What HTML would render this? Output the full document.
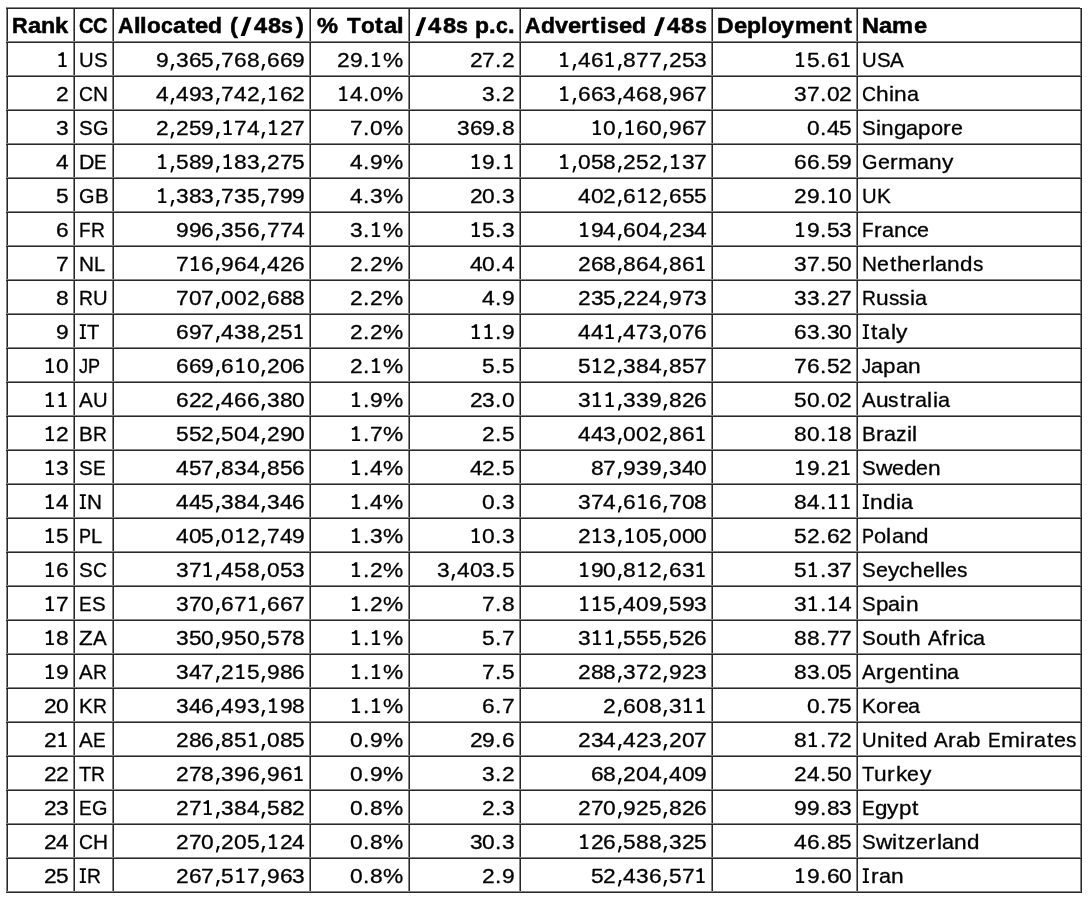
<!DOCTYPE html>
<html><head><meta charset="utf-8"><title>Allocated /48s by country</title>
<style>
html,body{margin:0;padding:0;background:#fff;}
body{width:1092px;height:902px;position:relative;overflow:hidden;font-family:"Liberation Sans",sans-serif;color:#000;}
.v,.h{position:absolute;}
#txt{position:absolute;left:0;top:0;width:1092px;height:902px;will-change:transform;}
.w{position:absolute;left:0;top:0;width:1092px;height:24px;font-size:20.7px;line-height:24px;}
.w.b{font-size:21.5px;}
.w i{position:absolute;top:0;font-style:normal;white-space:pre;transform-origin:0 19.0px;-webkit-text-stroke:0.3px #000;}
.w.b i{font-weight:bold;-webkit-text-stroke:0.5px #000;}
.b0{transform:scale(1.0073,1.0000)}
.b1{transform:scale(1.1000,1.0000)}
.b2{transform:scale(1.0843,1.0000)}
.b3{transform:scale(1.1000,1.0000)}
.b4{transform:scale(0.9326,1.0000)}
.b5{transform:scale(0.9996,1.0000)}
.b6{transform:scale(1.1000,1.0000)}
.b7{transform:scale(1.0462,1.0000)}
.b8{transform:scale(0.9835,1.0000)}
.b9{transform:scale(1.1000,1.0000)}
.b10{transform:scale(1.1000,1.0000)}
.b11{transform:scale(1.0645,1.0000)}
.b12{transform:scale(1.1000,1.0000)}
.b13{transform:scale(1.1000,1.0000)}
.b14{transform:scale(1.1000,1.0000)}
.b15{transform:scale(0.9919,1.0000)}
.b16{transform:scale(1.1000,1.0000)}
.b17{transform:scale(1.1000,1.0000)}
.b18{transform:scale(1.0386,1.0000)}
.b19{transform:scale(1.0645,1.0000)}
.b20{transform:scale(1.1000,1.0000)}
.b21{transform:scale(1.0872,1.0000)}
.b22{transform:scale(1.1000,1.0000)}
.b23{transform:scale(1.1000,1.0000)}
.b24{transform:scale(1.0691,1.0000)}
.b25{transform:scale(1.0889,1.0000)}
.b26{transform:scale(1.1000,1.0000)}
.b27{transform:scale(1.0910,1.0000)}
.r28{transform:scale(0.9793,1.0000)}
.r29{transform:scale(0.9908,1.0000)}
.r30{transform:scale(1.1000,1.0000)}
.r31{transform:scale(1.1000,1.0000)}
.r32{transform:scale(1.1000,1.0000)}
.r33{transform:scale(1.1000,1.0000)}
.r34{transform:scale(1.1000,1.0000)}
.r35{transform:scale(1.1000,1.0000)}
.r36{transform:scale(1.1000,1.0000)}
.r37{transform:scale(1.1000,1.0000)}
.r38{transform:scale(1.1000,1.0000)}
.r39{transform:scale(1.1000,1.0000)}
.r40{transform:scale(0.9908,1.0000)}
.r41{transform:scale(0.9338,1.0000)}
.r42{transform:scale(1.0007,1.0000)}
.r43{transform:scale(1.1000,1.0000)}
.r44{transform:scale(1.0997,1.0000)}
.r45{transform:scale(1.1000,1.0000)}
.r46{transform:scale(1.0997,1.0000)}
.r47{transform:scale(1.0441,1.0000)}
.r48{transform:scale(0.9627,1.0000)}
.r49{transform:scale(1.0823,1.0000)}
.r50{transform:scale(1.0823,1.0000)}
.r51{transform:scale(1.0545,1.0000)}
.r52{transform:scale(1.1000,1.0000)}
.r53{transform:scale(1.0354,1.0000)}
.r54{transform:scale(1.0315,1.0000)}
.r55{transform:scale(0.9155,1.0000)}
.r56{transform:scale(1.1000,1.0000)}
.r57{transform:scale(1.1000,1.0000)}
.r58{transform:scale(0.9937,1.0000)}
.r59{transform:scale(1.0039,1.0000)}
.r60{transform:scale(0.9095,1.0000)}
.r61{transform:scale(0.9298,1.0000)}
.r62{transform:scale(1.0068,1.0000)}
.r63{transform:scale(0.9677,1.0000)}
.r64{transform:scale(1.1000,1.0000)}
.r65{transform:scale(1.1000,1.0000)}
.r66{transform:scale(1.0823,1.0000)}
.r67{transform:scale(1.0068,1.0000)}
.r68{transform:scale(1.0997,1.0000)}
.r69{transform:scale(0.9743,1.0000)}
.r70{transform:scale(0.8792,1.0000)}
.r71{transform:scale(0.8735,1.0000)}
.r72{transform:scale(1.0145,1.0000)}
.r73{transform:scale(1.0944,1.0000)}
.r74{transform:scale(1.0835,1.0000)}
.r75{transform:scale(1.1000,1.0000)}
.r76{transform:scale(1.0823,1.0000)}
.r77{transform:scale(1.1000,1.0000)}
.r78{transform:scale(1.0048,1.0000)}
</style></head><body>

<div class="v" style="left:6px;top:8px;width:1px;height:884px;background:#848484"></div>
<div class="v" style="left:73px;top:8px;width:1px;height:884px;background:#848484"></div>
<div class="v" style="left:112px;top:8px;width:1px;height:884px;background:#848484"></div>
<div class="v" style="left:309px;top:8px;width:1px;height:884px;background:#848484"></div>
<div class="v" style="left:408px;top:8px;width:1px;height:884px;background:#848484"></div>
<div class="v" style="left:519px;top:8px;width:1px;height:884px;background:#848484"></div>
<div class="v" style="left:711px;top:8px;width:1px;height:884px;background:#848484"></div>
<div class="v" style="left:856px;top:8px;width:1px;height:884px;background:#848484"></div>
<div class="v" style="left:1080px;top:8px;width:1px;height:884px;background:#848484"></div>
<div class="v" style="left:7px;top:8px;width:1px;height:885px;background:#272727"></div>
<div class="v" style="left:74px;top:8px;width:1px;height:885px;background:#272727"></div>
<div class="v" style="left:113px;top:8px;width:1px;height:885px;background:#272727"></div>
<div class="v" style="left:310px;top:8px;width:1px;height:885px;background:#272727"></div>
<div class="v" style="left:409px;top:8px;width:1px;height:885px;background:#272727"></div>
<div class="v" style="left:520px;top:8px;width:1px;height:885px;background:#272727"></div>
<div class="v" style="left:712px;top:8px;width:1px;height:885px;background:#272727"></div>
<div class="v" style="left:857px;top:8px;width:1px;height:885px;background:#272727"></div>
<div class="v" style="left:1081px;top:8px;width:1px;height:885px;background:#272727"></div>
<div class="h" style="left:6px;top:7px;width:1074px;height:1px;background:#848484"></div>
<div class="h" style="left:6px;top:41px;width:1074px;height:1px;background:#848484"></div>
<div class="h" style="left:6px;top:75px;width:1074px;height:1px;background:#848484"></div>
<div class="h" style="left:6px;top:109px;width:1074px;height:1px;background:#848484"></div>
<div class="h" style="left:6px;top:143px;width:1074px;height:1px;background:#848484"></div>
<div class="h" style="left:6px;top:177px;width:1074px;height:1px;background:#848484"></div>
<div class="h" style="left:6px;top:211px;width:1074px;height:1px;background:#848484"></div>
<div class="h" style="left:6px;top:245px;width:1074px;height:1px;background:#848484"></div>
<div class="h" style="left:6px;top:279px;width:1074px;height:1px;background:#848484"></div>
<div class="h" style="left:6px;top:313px;width:1074px;height:1px;background:#848484"></div>
<div class="h" style="left:6px;top:347px;width:1074px;height:1px;background:#848484"></div>
<div class="h" style="left:6px;top:381px;width:1074px;height:1px;background:#848484"></div>
<div class="h" style="left:6px;top:415px;width:1074px;height:1px;background:#848484"></div>
<div class="h" style="left:6px;top:449px;width:1074px;height:1px;background:#848484"></div>
<div class="h" style="left:6px;top:483px;width:1074px;height:1px;background:#848484"></div>
<div class="h" style="left:6px;top:517px;width:1074px;height:1px;background:#848484"></div>
<div class="h" style="left:6px;top:551px;width:1074px;height:1px;background:#848484"></div>
<div class="h" style="left:6px;top:585px;width:1074px;height:1px;background:#848484"></div>
<div class="h" style="left:6px;top:619px;width:1074px;height:1px;background:#848484"></div>
<div class="h" style="left:6px;top:653px;width:1074px;height:1px;background:#848484"></div>
<div class="h" style="left:6px;top:687px;width:1074px;height:1px;background:#848484"></div>
<div class="h" style="left:6px;top:721px;width:1074px;height:1px;background:#848484"></div>
<div class="h" style="left:6px;top:755px;width:1074px;height:1px;background:#848484"></div>
<div class="h" style="left:6px;top:789px;width:1074px;height:1px;background:#848484"></div>
<div class="h" style="left:6px;top:823px;width:1074px;height:1px;background:#848484"></div>
<div class="h" style="left:6px;top:857px;width:1074px;height:1px;background:#848484"></div>
<div class="h" style="left:6px;top:891px;width:1074px;height:1px;background:#848484"></div>
<div class="h" style="left:6px;top:8px;width:1076px;height:1px;background:#272727"></div>
<div class="h" style="left:6px;top:42px;width:1076px;height:1px;background:#272727"></div>
<div class="h" style="left:6px;top:76px;width:1076px;height:1px;background:#272727"></div>
<div class="h" style="left:6px;top:110px;width:1076px;height:1px;background:#272727"></div>
<div class="h" style="left:6px;top:144px;width:1076px;height:1px;background:#272727"></div>
<div class="h" style="left:6px;top:178px;width:1076px;height:1px;background:#272727"></div>
<div class="h" style="left:6px;top:212px;width:1076px;height:1px;background:#272727"></div>
<div class="h" style="left:6px;top:246px;width:1076px;height:1px;background:#272727"></div>
<div class="h" style="left:6px;top:280px;width:1076px;height:1px;background:#272727"></div>
<div class="h" style="left:6px;top:314px;width:1076px;height:1px;background:#272727"></div>
<div class="h" style="left:6px;top:348px;width:1076px;height:1px;background:#272727"></div>
<div class="h" style="left:6px;top:382px;width:1076px;height:1px;background:#272727"></div>
<div class="h" style="left:6px;top:416px;width:1076px;height:1px;background:#272727"></div>
<div class="h" style="left:6px;top:450px;width:1076px;height:1px;background:#272727"></div>
<div class="h" style="left:6px;top:484px;width:1076px;height:1px;background:#272727"></div>
<div class="h" style="left:6px;top:518px;width:1076px;height:1px;background:#272727"></div>
<div class="h" style="left:6px;top:552px;width:1076px;height:1px;background:#272727"></div>
<div class="h" style="left:6px;top:586px;width:1076px;height:1px;background:#272727"></div>
<div class="h" style="left:6px;top:620px;width:1076px;height:1px;background:#272727"></div>
<div class="h" style="left:6px;top:654px;width:1076px;height:1px;background:#272727"></div>
<div class="h" style="left:6px;top:688px;width:1076px;height:1px;background:#272727"></div>
<div class="h" style="left:6px;top:722px;width:1076px;height:1px;background:#272727"></div>
<div class="h" style="left:6px;top:756px;width:1076px;height:1px;background:#272727"></div>
<div class="h" style="left:6px;top:790px;width:1076px;height:1px;background:#272727"></div>
<div class="h" style="left:6px;top:824px;width:1076px;height:1px;background:#272727"></div>
<div class="h" style="left:6px;top:858px;width:1076px;height:1px;background:#272727"></div>
<div class="h" style="left:6px;top:892px;width:1076px;height:1px;background:#272727"></div>
<svg style="position:absolute;left:0;top:0" width="1092" height="902" viewBox="0 0 1092 902"><polygon points="240.56,35.90 244.76,35.90 251.56,17.20 247.36,17.20"/><polygon points="415.30,35.90 419.50,35.90 426.30,17.20 422.10,17.20"/><polygon points="653.94,35.90 658.14,35.90 664.94,17.20 660.74,17.20"/><polygon points="61.83,52.30 63.88,52.30 63.88,65.20 66.68,65.20 66.68,67.00 58.68,67.00 58.68,65.20 61.83,65.20 61.83,55.80 58.38,55.80 58.38,54.10 59.88,54.10"/><polygon points="171.78,64.10 174.28,64.10 172.08,70.60 170.38,70.60"/><polygon points="217.22,64.10 219.72,64.10 217.52,70.60 215.82,70.60"/><polygon points="262.66,64.10 265.16,64.10 262.96,70.60 261.26,70.60"/><polygon points="375.31,52.30 377.36,52.30 377.36,65.20 380.16,65.20 380.16,67.00 372.16,67.00 372.16,65.20 375.31,65.20 375.31,55.80 371.86,55.80 371.86,54.10 373.36,54.10"/><polygon points="563.51,52.30 565.56,52.30 565.56,65.20 568.36,65.20 568.36,67.00 560.36,67.00 560.36,65.20 563.51,65.20 563.51,55.80 560.06,55.80 560.06,54.10 561.56,54.10"/><polygon points="573.78,64.10 576.28,64.10 574.08,70.60 572.38,70.60"/><polygon points="608.95,52.30 611.00,52.30 611.00,65.20 613.80,65.20 613.80,67.00 605.80,67.00 605.80,65.20 608.95,65.20 608.95,55.80 605.50,55.80 605.50,54.10 607.00,54.10"/><polygon points="619.22,64.10 621.72,64.10 619.52,70.60 617.82,70.60"/><polygon points="664.66,64.10 667.16,64.10 664.96,70.60 663.26,70.60"/><polygon points="799.39,52.30 801.44,52.30 801.44,65.20 804.24,65.20 804.24,67.00 796.24,67.00 796.24,65.20 799.39,65.20 799.39,55.80 795.94,55.80 795.94,54.10 797.44,54.10"/><polygon points="844.83,52.30 846.88,52.30 846.88,65.20 849.68,65.20 849.68,67.00 841.68,67.00 841.68,65.20 844.83,65.20 844.83,55.80 841.38,55.80 841.38,54.10 842.88,54.10"/><polygon points="171.78,98.10 174.28,98.10 172.08,104.60 170.38,104.60"/><polygon points="217.22,98.10 219.72,98.10 217.52,104.60 215.82,104.60"/><polygon points="262.66,98.10 265.16,98.10 262.96,104.60 261.26,104.60"/><polygon points="272.39,86.30 274.44,86.30 274.44,99.20 277.24,99.20 277.24,101.00 269.24,101.00 269.24,99.20 272.39,99.20 272.39,89.80 268.94,89.80 268.94,88.10 270.44,88.10"/><polygon points="342.59,86.30 344.64,86.30 344.64,99.20 347.44,99.20 347.44,101.00 339.44,101.00 339.44,99.20 342.59,99.20 342.59,89.80 339.14,89.80 339.14,88.10 340.64,88.10"/><polygon points="563.51,86.30 565.56,86.30 565.56,99.20 568.36,99.20 568.36,101.00 560.36,101.00 560.36,99.20 563.51,99.20 563.51,89.80 560.06,89.80 560.06,88.10 561.56,88.10"/><polygon points="573.78,98.10 576.28,98.10 574.08,104.60 572.38,104.60"/><polygon points="619.22,98.10 621.72,98.10 619.52,104.60 617.82,104.60"/><polygon points="664.66,98.10 667.16,98.10 664.96,104.60 663.26,104.60"/><polygon points="171.78,132.10 174.28,132.10 172.08,138.60 170.38,138.60"/><polygon points="217.22,132.10 219.72,132.10 217.52,138.60 215.82,138.60"/><polygon points="226.95,120.30 229.00,120.30 229.00,133.20 231.80,133.20 231.80,135.00 223.80,135.00 223.80,133.20 226.95,133.20 226.95,123.80 223.50,123.80 223.50,122.10 225.00,122.10"/><polygon points="262.66,132.10 265.16,132.10 262.96,138.60 261.26,138.60"/><polygon points="272.39,120.30 274.44,120.30 274.44,133.20 277.24,133.20 277.24,135.00 269.24,135.00 269.24,133.20 272.39,133.20 272.39,123.80 268.94,123.80 268.94,122.10 270.44,122.10"/><polygon points="596.23,120.30 598.28,120.30 598.28,133.20 601.08,133.20 601.08,135.00 593.08,135.00 593.08,133.20 596.23,133.20 596.23,123.80 592.78,123.80 592.78,122.10 594.28,122.10"/><polygon points="619.22,132.10 621.72,132.10 619.52,138.60 617.82,138.60"/><polygon points="628.95,120.30 631.00,120.30 631.00,133.20 633.80,133.20 633.80,135.00 625.80,135.00 625.80,133.20 628.95,133.20 628.95,123.80 625.50,123.80 625.50,122.10 627.00,122.10"/><polygon points="664.66,132.10 667.16,132.10 664.96,138.60 663.26,138.60"/><polygon points="161.51,154.30 163.56,154.30 163.56,167.20 166.36,167.20 166.36,169.00 158.36,169.00 158.36,167.20 161.51,167.20 161.51,157.80 158.06,157.80 158.06,156.10 159.56,156.10"/><polygon points="171.78,166.10 174.28,166.10 172.08,172.60 170.38,172.60"/><polygon points="217.22,166.10 219.72,166.10 217.52,172.60 215.82,172.60"/><polygon points="226.95,154.30 229.00,154.30 229.00,167.20 231.80,167.20 231.80,169.00 223.80,169.00 223.80,167.20 226.95,167.20 226.95,157.80 223.50,157.80 223.50,156.10 225.00,156.10"/><polygon points="262.66,166.10 265.16,166.10 262.96,172.60 261.26,172.60"/><polygon points="475.11,154.30 477.16,154.30 477.16,167.20 479.96,167.20 479.96,169.00 471.96,169.00 471.96,167.20 475.11,167.20 475.11,157.80 471.66,157.80 471.66,156.10 473.16,156.10"/><polygon points="507.83,154.30 509.88,154.30 509.88,167.20 512.68,167.20 512.68,169.00 504.68,169.00 504.68,167.20 507.83,167.20 507.83,157.80 504.38,157.80 504.38,156.10 505.88,156.10"/><polygon points="563.51,154.30 565.56,154.30 565.56,167.20 568.36,167.20 568.36,169.00 560.36,169.00 560.36,167.20 563.51,167.20 563.51,157.80 560.06,157.80 560.06,156.10 561.56,156.10"/><polygon points="573.78,166.10 576.28,166.10 574.08,172.60 572.38,172.60"/><polygon points="619.22,166.10 621.72,166.10 619.52,172.60 617.82,172.60"/><polygon points="664.66,166.10 667.16,166.10 664.96,172.60 663.26,172.60"/><polygon points="674.39,154.30 676.44,154.30 676.44,167.20 679.24,167.20 679.24,169.00 671.24,169.00 671.24,167.20 674.39,167.20 674.39,157.80 670.94,157.80 670.94,156.10 672.44,156.10"/><polygon points="161.51,188.30 163.56,188.30 163.56,201.20 166.36,201.20 166.36,203.00 158.36,203.00 158.36,201.20 161.51,201.20 161.51,191.80 158.06,191.80 158.06,190.10 159.56,190.10"/><polygon points="171.78,200.10 174.28,200.10 172.08,206.60 170.38,206.60"/><polygon points="217.22,200.10 219.72,200.10 217.52,206.60 215.82,206.60"/><polygon points="262.66,200.10 265.16,200.10 262.96,206.60 261.26,206.60"/><polygon points="619.22,200.10 621.72,200.10 619.52,206.60 617.82,206.60"/><polygon points="641.67,188.30 643.72,188.30 643.72,201.20 646.52,201.20 646.52,203.00 638.52,203.00 638.52,201.20 641.67,201.20 641.67,191.80 638.22,191.80 638.22,190.10 639.72,190.10"/><polygon points="664.66,200.10 667.16,200.10 664.96,206.60 663.26,206.60"/><polygon points="832.11,188.30 834.16,188.30 834.16,201.20 836.96,201.20 836.96,203.00 828.96,203.00 828.96,201.20 832.11,201.20 832.11,191.80 828.66,191.80 828.66,190.10 830.16,190.10"/><polygon points="217.22,234.10 219.72,234.10 217.52,240.60 215.82,240.60"/><polygon points="262.66,234.10 265.16,234.10 262.96,240.60 261.26,240.60"/><polygon points="375.31,222.30 377.36,222.30 377.36,235.20 380.16,235.20 380.16,237.00 372.16,237.00 372.16,235.20 375.31,235.20 375.31,225.80 371.86,225.80 371.86,224.10 373.36,224.10"/><polygon points="475.11,222.30 477.16,222.30 477.16,235.20 479.96,235.20 479.96,237.00 471.96,237.00 471.96,235.20 475.11,235.20 475.11,225.80 471.66,225.80 471.66,224.10 473.16,224.10"/><polygon points="583.51,222.30 585.56,222.30 585.56,235.20 588.36,235.20 588.36,237.00 580.36,237.00 580.36,235.20 583.51,235.20 583.51,225.80 580.06,225.80 580.06,224.10 581.56,224.10"/><polygon points="619.22,234.10 621.72,234.10 619.52,240.60 617.82,240.60"/><polygon points="664.66,234.10 667.16,234.10 664.96,240.60 663.26,240.60"/><polygon points="799.39,222.30 801.44,222.30 801.44,235.20 804.24,235.20 804.24,237.00 796.24,237.00 796.24,235.20 799.39,235.20 799.39,225.80 795.94,225.80 795.94,224.10 797.44,224.10"/><polygon points="194.23,256.30 196.28,256.30 196.28,269.20 199.08,269.20 199.08,271.00 191.08,271.00 191.08,269.20 194.23,269.20 194.23,259.80 190.78,259.80 190.78,258.10 192.28,258.10"/><polygon points="217.22,268.10 219.72,268.10 217.52,274.60 215.82,274.60"/><polygon points="262.66,268.10 265.16,268.10 262.96,274.60 261.26,274.60"/><polygon points="619.22,268.10 621.72,268.10 619.52,274.60 617.82,274.60"/><polygon points="664.66,268.10 667.16,268.10 664.96,274.60 663.26,274.60"/><polygon points="699.83,256.30 701.88,256.30 701.88,269.20 704.68,269.20 704.68,271.00 696.68,271.00 696.68,269.20 699.83,269.20 699.83,259.80 696.38,259.80 696.38,258.10 697.88,258.10"/><polygon points="217.22,302.10 219.72,302.10 217.52,308.60 215.82,308.60"/><polygon points="262.66,302.10 265.16,302.10 262.96,308.60 261.26,308.60"/><polygon points="619.22,302.10 621.72,302.10 619.52,308.60 617.82,308.60"/><polygon points="664.66,302.10 667.16,302.10 664.96,308.60 663.26,308.60"/><path d="M79.80 324.20h6.10v1.80h-2.05v11.20h2.05v1.80h-6.10v-1.80h2.05v-11.20h-2.05z"/><polygon points="217.22,336.10 219.72,336.10 217.52,342.60 215.82,342.60"/><polygon points="262.66,336.10 265.16,336.10 262.96,342.60 261.26,342.60"/><polygon points="297.83,324.30 299.88,324.30 299.88,337.20 302.68,337.20 302.68,339.00 294.68,339.00 294.68,337.20 297.83,337.20 297.83,327.80 294.38,327.80 294.38,326.10 295.88,326.10"/><polygon points="475.11,324.30 477.16,324.30 477.16,337.20 479.96,337.20 479.96,339.00 471.96,339.00 471.96,337.20 475.11,337.20 475.11,327.80 471.66,327.80 471.66,326.10 473.16,326.10"/><polygon points="487.83,324.30 489.88,324.30 489.88,337.20 492.68,337.20 492.68,339.00 484.68,339.00 484.68,337.20 487.83,337.20 487.83,327.80 484.38,327.80 484.38,326.10 485.88,326.10"/><polygon points="608.95,324.30 611.00,324.30 611.00,337.20 613.80,337.20 613.80,339.00 605.80,339.00 605.80,337.20 608.95,337.20 608.95,327.80 605.50,327.80 605.50,326.10 607.00,326.10"/><polygon points="619.22,336.10 621.72,336.10 619.52,342.60 617.82,342.60"/><polygon points="664.66,336.10 667.16,336.10 664.96,342.60 663.26,342.60"/><path d="M862.80 324.20h6.10v1.80h-2.05v11.20h2.05v1.80h-6.10v-1.80h2.05v-11.20h-2.05z"/><polygon points="49.11,358.30 51.16,358.30 51.16,371.20 53.96,371.20 53.96,373.00 45.96,373.00 45.96,371.20 49.11,371.20 49.11,361.80 45.66,361.80 45.66,360.10 47.16,360.10"/><polygon points="217.22,370.10 219.72,370.10 217.52,376.60 215.82,376.60"/><polygon points="239.67,358.30 241.72,358.30 241.72,371.20 244.52,371.20 244.52,373.00 236.52,373.00 236.52,371.20 239.67,371.20 239.67,361.80 236.22,361.80 236.22,360.10 237.72,360.10"/><polygon points="262.66,370.10 265.16,370.10 262.96,376.60 261.26,376.60"/><polygon points="375.31,358.30 377.36,358.30 377.36,371.20 380.16,371.20 380.16,373.00 372.16,373.00 372.16,371.20 375.31,371.20 375.31,361.80 371.86,361.80 371.86,360.10 373.36,360.10"/><polygon points="596.23,358.30 598.28,358.30 598.28,371.20 601.08,371.20 601.08,373.00 593.08,373.00 593.08,371.20 596.23,371.20 596.23,361.80 592.78,361.80 592.78,360.10 594.28,360.10"/><polygon points="619.22,370.10 621.72,370.10 619.52,376.60 617.82,376.60"/><polygon points="664.66,370.10 667.16,370.10 664.96,376.60 663.26,376.60"/><polygon points="49.11,392.30 51.16,392.30 51.16,405.20 53.96,405.20 53.96,407.00 45.96,407.00 45.96,405.20 49.11,405.20 49.11,395.80 45.66,395.80 45.66,394.10 47.16,394.10"/><polygon points="61.83,392.30 63.88,392.30 63.88,405.20 66.68,405.20 66.68,407.00 58.68,407.00 58.68,405.20 61.83,405.20 61.83,395.80 58.38,395.80 58.38,394.10 59.88,394.10"/><polygon points="217.22,404.10 219.72,404.10 217.52,410.60 215.82,410.60"/><polygon points="262.66,404.10 265.16,404.10 262.96,410.60 261.26,410.60"/><polygon points="355.31,392.30 357.36,392.30 357.36,405.20 360.16,405.20 360.16,407.00 352.16,407.00 352.16,405.20 355.31,405.20 355.31,395.80 351.86,395.80 351.86,394.10 353.36,394.10"/><polygon points="596.23,392.30 598.28,392.30 598.28,405.20 601.08,405.20 601.08,407.00 593.08,407.00 593.08,405.20 596.23,405.20 596.23,395.80 592.78,395.80 592.78,394.10 594.28,394.10"/><polygon points="608.95,392.30 611.00,392.30 611.00,405.20 613.80,405.20 613.80,407.00 605.80,407.00 605.80,405.20 608.95,405.20 608.95,395.80 605.50,395.80 605.50,394.10 607.00,394.10"/><polygon points="619.22,404.10 621.72,404.10 619.52,410.60 617.82,410.60"/><polygon points="664.66,404.10 667.16,404.10 664.96,410.60 663.26,410.60"/><polygon points="49.11,426.30 51.16,426.30 51.16,439.20 53.96,439.20 53.96,441.00 45.96,441.00 45.96,439.20 49.11,439.20 49.11,429.80 45.66,429.80 45.66,428.10 47.16,428.10"/><polygon points="217.22,438.10 219.72,438.10 217.52,444.60 215.82,444.60"/><polygon points="262.66,438.10 265.16,438.10 262.96,444.60 261.26,444.60"/><polygon points="355.31,426.30 357.36,426.30 357.36,439.20 360.16,439.20 360.16,441.00 352.16,441.00 352.16,439.20 355.31,439.20 355.31,429.80 351.86,429.80 351.86,428.10 353.36,428.10"/><polygon points="619.22,438.10 621.72,438.10 619.52,444.60 617.82,444.60"/><polygon points="664.66,438.10 667.16,438.10 664.96,444.60 663.26,444.60"/><polygon points="699.83,426.30 701.88,426.30 701.88,439.20 704.68,439.20 704.68,441.00 696.68,441.00 696.68,439.20 699.83,439.20 699.83,429.80 696.38,429.80 696.38,428.10 697.88,428.10"/><polygon points="832.11,426.30 834.16,426.30 834.16,439.20 836.96,439.20 836.96,441.00 828.96,441.00 828.96,439.20 832.11,439.20 832.11,429.80 828.66,429.80 828.66,428.10 830.16,428.10"/><polygon points="49.11,460.30 51.16,460.30 51.16,473.20 53.96,473.20 53.96,475.00 45.96,475.00 45.96,473.20 49.11,473.20 49.11,463.80 45.66,463.80 45.66,462.10 47.16,462.10"/><polygon points="217.22,472.10 219.72,472.10 217.52,478.60 215.82,478.60"/><polygon points="262.66,472.10 265.16,472.10 262.96,478.60 261.26,478.60"/><polygon points="355.31,460.30 357.36,460.30 357.36,473.20 360.16,473.20 360.16,475.00 352.16,475.00 352.16,473.20 355.31,473.20 355.31,463.80 351.86,463.80 351.86,462.10 353.36,462.10"/><polygon points="619.22,472.10 621.72,472.10 619.52,478.60 617.82,478.60"/><polygon points="664.66,472.10 667.16,472.10 664.96,478.60 663.26,478.60"/><polygon points="799.39,460.30 801.44,460.30 801.44,473.20 804.24,473.20 804.24,475.00 796.24,475.00 796.24,473.20 799.39,473.20 799.39,463.80 795.94,463.80 795.94,462.10 797.44,462.10"/><polygon points="844.83,460.30 846.88,460.30 846.88,473.20 849.68,473.20 849.68,475.00 841.68,475.00 841.68,473.20 844.83,473.20 844.83,463.80 841.38,463.80 841.38,462.10 842.88,462.10"/><polygon points="49.11,494.30 51.16,494.30 51.16,507.20 53.96,507.20 53.96,509.00 45.96,509.00 45.96,507.20 49.11,507.20 49.11,497.80 45.66,497.80 45.66,496.10 47.16,496.10"/><path d="M79.80 494.20h6.10v1.80h-2.05v11.20h2.05v1.80h-6.10v-1.80h2.05v-11.20h-2.05z"/><polygon points="217.22,506.10 219.72,506.10 217.52,512.60 215.82,512.60"/><polygon points="262.66,506.10 265.16,506.10 262.96,512.60 261.26,512.60"/><polygon points="355.31,494.30 357.36,494.30 357.36,507.20 360.16,507.20 360.16,509.00 352.16,509.00 352.16,507.20 355.31,507.20 355.31,497.80 351.86,497.80 351.86,496.10 353.36,496.10"/><polygon points="619.22,506.10 621.72,506.10 619.52,512.60 617.82,512.60"/><polygon points="641.67,494.30 643.72,494.30 643.72,507.20 646.52,507.20 646.52,509.00 638.52,509.00 638.52,507.20 641.67,507.20 641.67,497.80 638.22,497.80 638.22,496.10 639.72,496.10"/><polygon points="664.66,506.10 667.16,506.10 664.96,512.60 663.26,512.60"/><polygon points="832.11,494.30 834.16,494.30 834.16,507.20 836.96,507.20 836.96,509.00 828.96,509.00 828.96,507.20 832.11,507.20 832.11,497.80 828.66,497.80 828.66,496.10 830.16,496.10"/><polygon points="844.83,494.30 846.88,494.30 846.88,507.20 849.68,507.20 849.68,509.00 841.68,509.00 841.68,507.20 844.83,507.20 844.83,497.80 841.38,497.80 841.38,496.10 842.88,496.10"/><path d="M862.80 494.20h6.10v1.80h-2.05v11.20h2.05v1.80h-6.10v-1.80h2.05v-11.20h-2.05z"/><polygon points="49.11,528.30 51.16,528.30 51.16,541.20 53.96,541.20 53.96,543.00 45.96,543.00 45.96,541.20 49.11,541.20 49.11,531.80 45.66,531.80 45.66,530.10 47.16,530.10"/><polygon points="217.22,540.10 219.72,540.10 217.52,546.60 215.82,546.60"/><polygon points="239.67,528.30 241.72,528.30 241.72,541.20 244.52,541.20 244.52,543.00 236.52,543.00 236.52,541.20 239.67,541.20 239.67,531.80 236.22,531.80 236.22,530.10 237.72,530.10"/><polygon points="262.66,540.10 265.16,540.10 262.96,546.60 261.26,546.60"/><polygon points="355.31,528.30 357.36,528.30 357.36,541.20 360.16,541.20 360.16,543.00 352.16,543.00 352.16,541.20 355.31,541.20 355.31,531.80 351.86,531.80 351.86,530.10 353.36,530.10"/><polygon points="475.11,528.30 477.16,528.30 477.16,541.20 479.96,541.20 479.96,543.00 471.96,543.00 471.96,541.20 475.11,541.20 475.11,531.80 471.66,531.80 471.66,530.10 473.16,530.10"/><polygon points="596.23,528.30 598.28,528.30 598.28,541.20 601.08,541.20 601.08,543.00 593.08,543.00 593.08,541.20 596.23,541.20 596.23,531.80 592.78,531.80 592.78,530.10 594.28,530.10"/><polygon points="619.22,540.10 621.72,540.10 619.52,546.60 617.82,546.60"/><polygon points="628.95,528.30 631.00,528.30 631.00,541.20 633.80,541.20 633.80,543.00 625.80,543.00 625.80,541.20 628.95,541.20 628.95,531.80 625.50,531.80 625.50,530.10 627.00,530.10"/><polygon points="664.66,540.10 667.16,540.10 664.96,546.60 663.26,546.60"/><polygon points="49.11,562.30 51.16,562.30 51.16,575.20 53.96,575.20 53.96,577.00 45.96,577.00 45.96,575.20 49.11,575.20 49.11,565.80 45.66,565.80 45.66,564.10 47.16,564.10"/><polygon points="206.95,562.30 209.00,562.30 209.00,575.20 211.80,575.20 211.80,577.00 203.80,577.00 203.80,575.20 206.95,575.20 206.95,565.80 203.50,565.80 203.50,564.10 205.00,564.10"/><polygon points="217.22,574.10 219.72,574.10 217.52,580.60 215.82,580.60"/><polygon points="262.66,574.10 265.16,574.10 262.96,580.60 261.26,580.60"/><polygon points="355.31,562.30 357.36,562.30 357.36,575.20 360.16,575.20 360.16,577.00 352.16,577.00 352.16,575.20 355.31,575.20 355.31,565.80 351.86,565.80 351.86,564.10 353.36,564.10"/><polygon points="452.66,574.10 455.16,574.10 452.96,580.60 451.26,580.60"/><polygon points="583.51,562.30 585.56,562.30 585.56,575.20 588.36,575.20 588.36,577.00 580.36,577.00 580.36,575.20 583.51,575.20 583.51,565.80 580.06,565.80 580.06,564.10 581.56,564.10"/><polygon points="619.22,574.10 621.72,574.10 619.52,580.60 617.82,580.60"/><polygon points="641.67,562.30 643.72,562.30 643.72,575.20 646.52,575.20 646.52,577.00 638.52,577.00 638.52,575.20 641.67,575.20 641.67,565.80 638.22,565.80 638.22,564.10 639.72,564.10"/><polygon points="664.66,574.10 667.16,574.10 664.96,580.60 663.26,580.60"/><polygon points="699.83,562.30 701.88,562.30 701.88,575.20 704.68,575.20 704.68,577.00 696.68,577.00 696.68,575.20 699.83,575.20 699.83,565.80 696.38,565.80 696.38,564.10 697.88,564.10"/><polygon points="812.11,562.30 814.16,562.30 814.16,575.20 816.96,575.20 816.96,577.00 808.96,577.00 808.96,575.20 812.11,575.20 812.11,565.80 808.66,565.80 808.66,564.10 810.16,564.10"/><polygon points="49.11,596.30 51.16,596.30 51.16,609.20 53.96,609.20 53.96,611.00 45.96,611.00 45.96,609.20 49.11,609.20 49.11,599.80 45.66,599.80 45.66,598.10 47.16,598.10"/><polygon points="217.22,608.10 219.72,608.10 217.52,614.60 215.82,614.60"/><polygon points="252.39,596.30 254.44,596.30 254.44,609.20 257.24,609.20 257.24,611.00 249.24,611.00 249.24,609.20 252.39,609.20 252.39,599.80 248.94,599.80 248.94,598.10 250.44,598.10"/><polygon points="262.66,608.10 265.16,608.10 262.96,614.60 261.26,614.60"/><polygon points="355.31,596.30 357.36,596.30 357.36,609.20 360.16,609.20 360.16,611.00 352.16,611.00 352.16,609.20 355.31,609.20 355.31,599.80 351.86,599.80 351.86,598.10 353.36,598.10"/><polygon points="583.51,596.30 585.56,596.30 585.56,609.20 588.36,609.20 588.36,611.00 580.36,611.00 580.36,609.20 583.51,609.20 583.51,599.80 580.06,599.80 580.06,598.10 581.56,598.10"/><polygon points="596.23,596.30 598.28,596.30 598.28,609.20 601.08,609.20 601.08,611.00 593.08,611.00 593.08,609.20 596.23,609.20 596.23,599.80 592.78,599.80 592.78,598.10 594.28,598.10"/><polygon points="619.22,608.10 621.72,608.10 619.52,614.60 617.82,614.60"/><polygon points="664.66,608.10 667.16,608.10 664.96,614.60 663.26,614.60"/><polygon points="812.11,596.30 814.16,596.30 814.16,609.20 816.96,609.20 816.96,611.00 808.96,611.00 808.96,609.20 812.11,609.20 812.11,599.80 808.66,599.80 808.66,598.10 810.16,598.10"/><polygon points="832.11,596.30 834.16,596.30 834.16,609.20 836.96,609.20 836.96,611.00 828.96,611.00 828.96,609.20 832.11,609.20 832.11,599.80 828.66,599.80 828.66,598.10 830.16,598.10"/><polygon points="49.11,630.30 51.16,630.30 51.16,643.20 53.96,643.20 53.96,645.00 45.96,645.00 45.96,643.20 49.11,643.20 49.11,633.80 45.66,633.80 45.66,632.10 47.16,632.10"/><polygon points="217.22,642.10 219.72,642.10 217.52,648.60 215.82,648.60"/><polygon points="262.66,642.10 265.16,642.10 262.96,648.60 261.26,648.60"/><polygon points="355.31,630.30 357.36,630.30 357.36,643.20 360.16,643.20 360.16,645.00 352.16,645.00 352.16,643.20 355.31,643.20 355.31,633.80 351.86,633.80 351.86,632.10 353.36,632.10"/><polygon points="375.31,630.30 377.36,630.30 377.36,643.20 380.16,643.20 380.16,645.00 372.16,645.00 372.16,643.20 375.31,643.20 375.31,633.80 371.86,633.80 371.86,632.10 373.36,632.10"/><polygon points="596.23,630.30 598.28,630.30 598.28,643.20 601.08,643.20 601.08,645.00 593.08,645.00 593.08,643.20 596.23,643.20 596.23,633.80 592.78,633.80 592.78,632.10 594.28,632.10"/><polygon points="608.95,630.30 611.00,630.30 611.00,643.20 613.80,643.20 613.80,645.00 605.80,645.00 605.80,643.20 608.95,643.20 608.95,633.80 605.50,633.80 605.50,632.10 607.00,632.10"/><polygon points="619.22,642.10 621.72,642.10 619.52,648.60 617.82,648.60"/><polygon points="664.66,642.10 667.16,642.10 664.96,648.60 663.26,648.60"/><polygon points="49.11,664.30 51.16,664.30 51.16,677.20 53.96,677.20 53.96,679.00 45.96,679.00 45.96,677.20 49.11,677.20 49.11,667.80 45.66,667.80 45.66,666.10 47.16,666.10"/><polygon points="217.22,676.10 219.72,676.10 217.52,682.60 215.82,682.60"/><polygon points="239.67,664.30 241.72,664.30 241.72,677.20 244.52,677.20 244.52,679.00 236.52,679.00 236.52,677.20 239.67,677.20 239.67,667.80 236.22,667.80 236.22,666.10 237.72,666.10"/><polygon points="262.66,676.10 265.16,676.10 262.96,682.60 261.26,682.60"/><polygon points="355.31,664.30 357.36,664.30 357.36,677.20 360.16,677.20 360.16,679.00 352.16,679.00 352.16,677.20 355.31,677.20 355.31,667.80 351.86,667.80 351.86,666.10 353.36,666.10"/><polygon points="375.31,664.30 377.36,664.30 377.36,677.20 380.16,677.20 380.16,679.00 372.16,679.00 372.16,677.20 375.31,677.20 375.31,667.80 371.86,667.80 371.86,666.10 373.36,666.10"/><polygon points="619.22,676.10 621.72,676.10 619.52,682.60 617.82,682.60"/><polygon points="664.66,676.10 667.16,676.10 664.96,682.60 663.26,682.60"/><polygon points="217.22,710.10 219.72,710.10 217.52,716.60 215.82,716.60"/><polygon points="262.66,710.10 265.16,710.10 262.96,716.60 261.26,716.60"/><polygon points="272.39,698.30 274.44,698.30 274.44,711.20 277.24,711.20 277.24,713.00 269.24,713.00 269.24,711.20 272.39,711.20 272.39,701.80 268.94,701.80 268.94,700.10 270.44,700.10"/><polygon points="355.31,698.30 357.36,698.30 357.36,711.20 360.16,711.20 360.16,713.00 352.16,713.00 352.16,711.20 355.31,711.20 355.31,701.80 351.86,701.80 351.86,700.10 353.36,700.10"/><polygon points="375.31,698.30 377.36,698.30 377.36,711.20 380.16,711.20 380.16,713.00 372.16,713.00 372.16,711.20 375.31,711.20 375.31,701.80 371.86,701.80 371.86,700.10 373.36,700.10"/><polygon points="619.22,710.10 621.72,710.10 619.52,716.60 617.82,716.60"/><polygon points="664.66,710.10 667.16,710.10 664.96,716.60 663.26,716.60"/><polygon points="687.11,698.30 689.16,698.30 689.16,711.20 691.96,711.20 691.96,713.00 683.96,713.00 683.96,711.20 687.11,711.20 687.11,701.80 683.66,701.80 683.66,700.10 685.16,700.10"/><polygon points="699.83,698.30 701.88,698.30 701.88,711.20 704.68,711.20 704.68,713.00 696.68,713.00 696.68,711.20 699.83,711.20 699.83,701.80 696.38,701.80 696.38,700.10 697.88,700.10"/><polygon points="61.83,732.30 63.88,732.30 63.88,745.20 66.68,745.20 66.68,747.00 58.68,747.00 58.68,745.20 61.83,745.20 61.83,735.80 58.38,735.80 58.38,734.10 59.88,734.10"/><polygon points="217.22,744.10 219.72,744.10 217.52,750.60 215.82,750.60"/><polygon points="252.39,732.30 254.44,732.30 254.44,745.20 257.24,745.20 257.24,747.00 249.24,747.00 249.24,745.20 252.39,745.20 252.39,735.80 248.94,735.80 248.94,734.10 250.44,734.10"/><polygon points="262.66,744.10 265.16,744.10 262.96,750.60 261.26,750.60"/><polygon points="619.22,744.10 621.72,744.10 619.52,750.60 617.82,750.60"/><polygon points="664.66,744.10 667.16,744.10 664.96,750.60 663.26,750.60"/><polygon points="812.11,732.30 814.16,732.30 814.16,745.20 816.96,745.20 816.96,747.00 808.96,747.00 808.96,745.20 812.11,745.20 812.11,735.80 808.66,735.80 808.66,734.10 810.16,734.10"/><polygon points="217.22,778.10 219.72,778.10 217.52,784.60 215.82,784.60"/><polygon points="262.66,778.10 265.16,778.10 262.96,784.60 261.26,784.60"/><polygon points="297.83,766.30 299.88,766.30 299.88,779.20 302.68,779.20 302.68,781.00 294.68,781.00 294.68,779.20 297.83,779.20 297.83,769.80 294.38,769.80 294.38,768.10 295.88,768.10"/><polygon points="619.22,778.10 621.72,778.10 619.52,784.60 617.82,784.60"/><polygon points="664.66,778.10 667.16,778.10 664.96,784.60 663.26,784.60"/><polygon points="206.95,800.30 209.00,800.30 209.00,813.20 211.80,813.20 211.80,815.00 203.80,815.00 203.80,813.20 206.95,813.20 206.95,803.80 203.50,803.80 203.50,802.10 205.00,802.10"/><polygon points="217.22,812.10 219.72,812.10 217.52,818.60 215.82,818.60"/><polygon points="262.66,812.10 265.16,812.10 262.96,818.60 261.26,818.60"/><polygon points="619.22,812.10 621.72,812.10 619.52,818.60 617.82,818.60"/><polygon points="664.66,812.10 667.16,812.10 664.96,818.60 663.26,818.60"/><polygon points="217.22,846.10 219.72,846.10 217.52,852.60 215.82,852.60"/><polygon points="262.66,846.10 265.16,846.10 262.96,852.60 261.26,852.60"/><polygon points="272.39,834.30 274.44,834.30 274.44,847.20 277.24,847.20 277.24,849.00 269.24,849.00 269.24,847.20 272.39,847.20 272.39,837.80 268.94,837.80 268.94,836.10 270.44,836.10"/><polygon points="583.51,834.30 585.56,834.30 585.56,847.20 588.36,847.20 588.36,849.00 580.36,849.00 580.36,847.20 583.51,847.20 583.51,837.80 580.06,837.80 580.06,836.10 581.56,836.10"/><polygon points="619.22,846.10 621.72,846.10 619.52,852.60 617.82,852.60"/><polygon points="664.66,846.10 667.16,846.10 664.96,852.60 663.26,852.60"/><path d="M79.80 868.20h6.10v1.80h-2.05v11.20h2.05v1.80h-6.10v-1.80h2.05v-11.20h-2.05z"/><polygon points="217.22,880.10 219.72,880.10 217.52,886.60 215.82,886.60"/><polygon points="239.67,868.30 241.72,868.30 241.72,881.20 244.52,881.20 244.52,883.00 236.52,883.00 236.52,881.20 239.67,881.20 239.67,871.80 236.22,871.80 236.22,870.10 237.72,870.10"/><polygon points="262.66,880.10 265.16,880.10 262.96,886.60 261.26,886.60"/><polygon points="619.22,880.10 621.72,880.10 619.52,886.60 617.82,886.60"/><polygon points="664.66,880.10 667.16,880.10 664.96,886.60 663.26,886.60"/><polygon points="699.83,868.30 701.88,868.30 701.88,881.20 704.68,881.20 704.68,883.00 696.68,883.00 696.68,881.20 699.83,881.20 699.83,871.80 696.38,871.80 696.38,870.10 697.88,870.10"/><polygon points="799.39,868.30 801.44,868.30 801.44,881.20 804.24,881.20 804.24,883.00 796.24,883.00 796.24,881.20 799.39,881.20 799.39,871.80 795.94,871.80 795.94,870.10 797.44,870.10"/><path d="M862.80 868.20h6.10v1.80h-2.05v11.20h2.05v1.80h-6.10v-1.80h2.05v-11.20h-2.05z"/></svg>
<div id="txt">
<div class="w b" style="top:14.00px"><i class="b0" style="left:12.00px">R</i><i class="b1" style="left:27.74px">a</i><i class="b2" style="left:41.00px">n</i><i class="b3" style="left:55.37px">k</i></div>
<div class="w b" style="top:14.00px"><i class="b4" style="left:79.00px">C</i><i class="b4" style="left:93.48px">C</i></div>
<div class="w b" style="top:14.00px"><i class="b5" style="left:118.00px">A</i><i class="b6" style="left:133.65px">l</i><i class="b6" style="left:140.49px">l</i><i class="b7" style="left:147.20px">o</i><i class="b8" style="left:160.94px">c</i><i class="b1" style="left:172.80px">a</i><i class="b9" style="left:186.68px">t</i><i class="b10" style="left:195.24px">e</i><i class="b11" style="left:208.46px">d</i><i class="b12" style="left:230.33px">(</i><i class="b13" style="left:253.57px">4</i><i class="b14" style="left:267.79px">8</i><i class="b15" style="left:281.48px">s</i><i class="b16" style="left:295.99px">)</i></div>
<div class="w b" style="top:14.00px"><i class="b17" style="left:317.21px">%</i><i class="b18" style="left:347.28px">T</i><i class="b7" style="left:360.92px">o</i><i class="b9" style="left:375.28px">t</i><i class="b1" style="left:383.88px">a</i><i class="b6" style="left:397.27px">l</i></div>
<div class="w b" style="top:14.00px"><i class="b13" style="left:428.31px">4</i><i class="b14" style="left:442.53px">8</i><i class="b15" style="left:456.22px">s</i><i class="b19" style="left:474.92px">p</i><i class="b20" style="left:489.22px">.</i><i class="b8" style="left:496.12px">c</i><i class="b20" style="left:508.20px">.</i></div>
<div class="w b" style="top:14.00px"><i class="b5" style="left:525.00px">A</i><i class="b11" style="left:540.52px">d</i><i class="b21" style="left:554.50px">v</i><i class="b10" style="left:567.56px">e</i><i class="b22" style="left:581.15px">r</i><i class="b9" style="left:591.34px">t</i><i class="b23" style="left:599.97px">i</i><i class="b15" style="left:606.68px">s</i><i class="b10" style="left:618.60px">e</i><i class="b11" style="left:631.82px">d</i><i class="b13" style="left:666.95px">4</i><i class="b14" style="left:681.17px">8</i><i class="b15" style="left:694.86px">s</i></div>
<div class="w b" style="top:14.00px"><i class="b24" style="left:717.00px">D</i><i class="b10" style="left:733.66px">e</i><i class="b19" style="left:746.88px">p</i><i class="b6" style="left:760.99px">l</i><i class="b7" style="left:767.70px">o</i><i class="b25" style="left:781.44px">y</i><i class="b26" style="left:794.53px">m</i><i class="b10" style="left:815.68px">e</i><i class="b2" style="left:828.90px">n</i><i class="b9" style="left:843.76px">t</i></div>
<div class="w b" style="top:14.00px"><i class="b27" style="left:862.00px">N</i><i class="b1" style="left:879.04px">a</i><i class="b26" style="left:892.37px">m</i><i class="b10" style="left:913.52px">e</i></div>
<div class="w" style="top:48.00px"></div>
<div class="w" style="top:48.00px"><i class="r28" style="left:79.00px">U</i><i class="r29" style="left:93.64px">S</i></div>
<div class="w" style="top:48.00px"><i class="r30" style="left:155.99px">9</i><i class="r31" style="left:175.99px">3</i><i class="r32" style="left:188.71px">6</i><i class="r33" style="left:201.43px">5</i><i class="r34" style="left:221.43px">7</i><i class="r32" style="left:234.15px">6</i><i class="r35" style="left:246.87px">8</i><i class="r32" style="left:266.87px">6</i><i class="r32" style="left:279.59px">6</i><i class="r30" style="left:292.31px">9</i></div>
<div class="w" style="top:48.00px"><i class="r36" style="left:337.07px">2</i><i class="r30" style="left:349.79px">9</i><i class="r37" style="left:362.96px">.</i><i class="r38" style="left:383.12px">%</i></div>
<div class="w" style="top:48.00px"><i class="r36" style="left:469.59px">2</i><i class="r34" style="left:482.31px">7</i><i class="r37" style="left:495.48px">.</i><i class="r36" style="left:502.31px">2</i></div>
<div class="w" style="top:48.00px"><i class="r39" style="left:577.99px">4</i><i class="r32" style="left:590.71px">6</i><i class="r35" style="left:623.43px">8</i><i class="r34" style="left:636.15px">7</i><i class="r34" style="left:648.87px">7</i><i class="r36" style="left:668.87px">2</i><i class="r33" style="left:681.59px">5</i><i class="r31" style="left:694.31px">3</i></div>
<div class="w" style="top:48.00px"><i class="r33" style="left:806.59px">5</i><i class="r37" style="left:819.76px">.</i><i class="r32" style="left:826.59px">6</i></div>
<div class="w" style="top:48.00px"><i class="r28" style="left:862.00px">U</i><i class="r29" style="left:876.64px">S</i><i class="r40" style="left:890.32px">A</i></div>
<div class="w" style="top:82.00px"><i class="r36" style="left:56.31px">2</i></div>
<div class="w" style="top:82.00px"><i class="r41" style="left:79.00px">C</i><i class="r42" style="left:92.96px">N</i></div>
<div class="w" style="top:82.00px"><i class="r39" style="left:155.99px">4</i><i class="r39" style="left:175.99px">4</i><i class="r30" style="left:188.71px">9</i><i class="r31" style="left:201.43px">3</i><i class="r34" style="left:221.43px">7</i><i class="r39" style="left:234.15px">4</i><i class="r36" style="left:246.87px">2</i><i class="r32" style="left:279.59px">6</i><i class="r36" style="left:292.31px">2</i></div>
<div class="w" style="top:82.00px"><i class="r39" style="left:349.79px">4</i><i class="r37" style="left:362.96px">.</i><i class="r43" style="left:369.79px">0</i><i class="r38" style="left:383.12px">%</i></div>
<div class="w" style="top:82.00px"><i class="r31" style="left:482.31px">3</i><i class="r37" style="left:495.48px">.</i><i class="r36" style="left:502.31px">2</i></div>
<div class="w" style="top:82.00px"><i class="r32" style="left:577.99px">6</i><i class="r32" style="left:590.71px">6</i><i class="r31" style="left:603.43px">3</i><i class="r39" style="left:623.43px">4</i><i class="r32" style="left:636.15px">6</i><i class="r35" style="left:648.87px">8</i><i class="r30" style="left:668.87px">9</i><i class="r32" style="left:681.59px">6</i><i class="r34" style="left:694.31px">7</i></div>
<div class="w" style="top:82.00px"><i class="r31" style="left:793.87px">3</i><i class="r34" style="left:806.59px">7</i><i class="r37" style="left:819.76px">.</i><i class="r43" style="left:826.59px">0</i><i class="r36" style="left:839.31px">2</i></div>
<div class="w" style="top:82.00px"><i class="r41" style="left:862.00px">C</i><i class="r44" style="left:875.96px">h</i><i class="r45" style="left:888.83px">i</i><i class="r46" style="left:894.10px">n</i><i class="r47" style="left:906.76px">a</i></div>
<div class="w" style="top:116.00px"><i class="r31" style="left:56.31px">3</i></div>
<div class="w" style="top:116.00px"><i class="r29" style="left:79.00px">S</i><i class="r48" style="left:92.68px">G</i></div>
<div class="w" style="top:116.00px"><i class="r36" style="left:155.99px">2</i><i class="r36" style="left:175.99px">2</i><i class="r33" style="left:188.71px">5</i><i class="r30" style="left:201.43px">9</i><i class="r34" style="left:234.15px">7</i><i class="r39" style="left:246.87px">4</i><i class="r36" style="left:279.59px">2</i><i class="r34" style="left:292.31px">7</i></div>
<div class="w" style="top:116.00px"><i class="r34" style="left:349.79px">7</i><i class="r37" style="left:362.96px">.</i><i class="r43" style="left:369.79px">0</i><i class="r38" style="left:383.12px">%</i></div>
<div class="w" style="top:116.00px"><i class="r31" style="left:456.87px">3</i><i class="r32" style="left:469.59px">6</i><i class="r30" style="left:482.31px">9</i><i class="r37" style="left:495.48px">.</i><i class="r35" style="left:502.31px">8</i></div>
<div class="w" style="top:116.00px"><i class="r43" style="left:603.43px">0</i><i class="r32" style="left:636.15px">6</i><i class="r43" style="left:648.87px">0</i><i class="r30" style="left:668.87px">9</i><i class="r32" style="left:681.59px">6</i><i class="r34" style="left:694.31px">7</i></div>
<div class="w" style="top:116.00px"><i class="r43" style="left:806.59px">0</i><i class="r37" style="left:819.76px">.</i><i class="r39" style="left:826.59px">4</i><i class="r33" style="left:839.31px">5</i></div>
<div class="w" style="top:116.00px"><i class="r29" style="left:862.00px">S</i><i class="r45" style="left:875.89px">i</i><i class="r46" style="left:881.16px">n</i><i class="r49" style="left:893.82px">g</i><i class="r47" style="left:906.28px">a</i><i class="r50" style="left:918.30px">p</i><i class="r51" style="left:930.76px">o</i><i class="r52" style="left:943.38px">r</i><i class="r53" style="left:951.44px">e</i></div>
<div class="w" style="top:150.00px"><i class="r39" style="left:56.31px">4</i></div>
<div class="w" style="top:150.00px"><i class="r54" style="left:79.00px">D</i><i class="r55" style="left:94.42px">E</i></div>
<div class="w" style="top:150.00px"><i class="r33" style="left:175.99px">5</i><i class="r35" style="left:188.71px">8</i><i class="r30" style="left:201.43px">9</i><i class="r35" style="left:234.15px">8</i><i class="r31" style="left:246.87px">3</i><i class="r36" style="left:266.87px">2</i><i class="r34" style="left:279.59px">7</i><i class="r33" style="left:292.31px">5</i></div>
<div class="w" style="top:150.00px"><i class="r39" style="left:349.79px">4</i><i class="r37" style="left:362.96px">.</i><i class="r30" style="left:369.79px">9</i><i class="r38" style="left:383.12px">%</i></div>
<div class="w" style="top:150.00px"><i class="r30" style="left:482.31px">9</i><i class="r37" style="left:495.48px">.</i></div>
<div class="w" style="top:150.00px"><i class="r43" style="left:577.99px">0</i><i class="r33" style="left:590.71px">5</i><i class="r35" style="left:603.43px">8</i><i class="r36" style="left:623.43px">2</i><i class="r33" style="left:636.15px">5</i><i class="r36" style="left:648.87px">2</i><i class="r31" style="left:681.59px">3</i><i class="r34" style="left:694.31px">7</i></div>
<div class="w" style="top:150.00px"><i class="r32" style="left:793.87px">6</i><i class="r32" style="left:806.59px">6</i><i class="r37" style="left:819.76px">.</i><i class="r33" style="left:826.59px">5</i><i class="r30" style="left:839.31px">9</i></div>
<div class="w" style="top:150.00px"><i class="r48" style="left:862.00px">G</i><i class="r53" style="left:877.50px">e</i><i class="r52" style="left:889.90px">r</i><i class="r56" style="left:898.21px">m</i><i class="r47" style="left:917.42px">a</i><i class="r46" style="left:929.44px">n</i><i class="r57" style="left:942.33px">y</i></div>
<div class="w" style="top:184.00px"><i class="r33" style="left:56.31px">5</i></div>
<div class="w" style="top:184.00px"><i class="r48" style="left:79.00px">G</i><i class="r58" style="left:94.50px">B</i></div>
<div class="w" style="top:184.00px"><i class="r31" style="left:175.99px">3</i><i class="r35" style="left:188.71px">8</i><i class="r31" style="left:201.43px">3</i><i class="r34" style="left:221.43px">7</i><i class="r31" style="left:234.15px">3</i><i class="r33" style="left:246.87px">5</i><i class="r34" style="left:266.87px">7</i><i class="r30" style="left:279.59px">9</i><i class="r30" style="left:292.31px">9</i></div>
<div class="w" style="top:184.00px"><i class="r39" style="left:349.79px">4</i><i class="r37" style="left:362.96px">.</i><i class="r31" style="left:369.79px">3</i><i class="r38" style="left:383.12px">%</i></div>
<div class="w" style="top:184.00px"><i class="r36" style="left:469.59px">2</i><i class="r43" style="left:482.31px">0</i><i class="r37" style="left:495.48px">.</i><i class="r31" style="left:502.31px">3</i></div>
<div class="w" style="top:184.00px"><i class="r39" style="left:577.99px">4</i><i class="r43" style="left:590.71px">0</i><i class="r36" style="left:603.43px">2</i><i class="r32" style="left:623.43px">6</i><i class="r36" style="left:648.87px">2</i><i class="r32" style="left:668.87px">6</i><i class="r33" style="left:681.59px">5</i><i class="r33" style="left:694.31px">5</i></div>
<div class="w" style="top:184.00px"><i class="r36" style="left:793.87px">2</i><i class="r30" style="left:806.59px">9</i><i class="r37" style="left:819.76px">.</i><i class="r43" style="left:839.31px">0</i></div>
<div class="w" style="top:184.00px"><i class="r28" style="left:862.00px">U</i><i class="r59" style="left:876.64px">K</i></div>
<div class="w" style="top:218.00px"><i class="r32" style="left:56.31px">6</i></div>
<div class="w" style="top:218.00px"><i class="r60" style="left:79.00px">F</i><i class="r61" style="left:90.50px">R</i></div>
<div class="w" style="top:218.00px"><i class="r30" style="left:175.99px">9</i><i class="r30" style="left:188.71px">9</i><i class="r32" style="left:201.43px">6</i><i class="r31" style="left:221.43px">3</i><i class="r33" style="left:234.15px">5</i><i class="r32" style="left:246.87px">6</i><i class="r34" style="left:266.87px">7</i><i class="r34" style="left:279.59px">7</i><i class="r39" style="left:292.31px">4</i></div>
<div class="w" style="top:218.00px"><i class="r31" style="left:349.79px">3</i><i class="r37" style="left:362.96px">.</i><i class="r38" style="left:383.12px">%</i></div>
<div class="w" style="top:218.00px"><i class="r33" style="left:482.31px">5</i><i class="r37" style="left:495.48px">.</i><i class="r31" style="left:502.31px">3</i></div>
<div class="w" style="top:218.00px"><i class="r30" style="left:590.71px">9</i><i class="r39" style="left:603.43px">4</i><i class="r32" style="left:623.43px">6</i><i class="r43" style="left:636.15px">0</i><i class="r39" style="left:648.87px">4</i><i class="r36" style="left:668.87px">2</i><i class="r31" style="left:681.59px">3</i><i class="r39" style="left:694.31px">4</i></div>
<div class="w" style="top:218.00px"><i class="r30" style="left:806.59px">9</i><i class="r37" style="left:819.76px">.</i><i class="r33" style="left:826.59px">5</i><i class="r31" style="left:839.31px">3</i></div>
<div class="w" style="top:218.00px"><i class="r60" style="left:862.00px">F</i><i class="r52" style="left:873.98px">r</i><i class="r47" style="left:882.04px">a</i><i class="r46" style="left:894.06px">n</i><i class="r62" style="left:906.72px">c</i><i class="r53" style="left:917.14px">e</i></div>
<div class="w" style="top:252.00px"><i class="r34" style="left:56.31px">7</i></div>
<div class="w" style="top:252.00px"><i class="r42" style="left:79.00px">N</i><i class="r63" style="left:93.96px">L</i></div>
<div class="w" style="top:252.00px"><i class="r34" style="left:175.99px">7</i><i class="r32" style="left:201.43px">6</i><i class="r30" style="left:221.43px">9</i><i class="r32" style="left:234.15px">6</i><i class="r39" style="left:246.87px">4</i><i class="r39" style="left:266.87px">4</i><i class="r36" style="left:279.59px">2</i><i class="r32" style="left:292.31px">6</i></div>
<div class="w" style="top:252.00px"><i class="r36" style="left:349.79px">2</i><i class="r37" style="left:362.96px">.</i><i class="r36" style="left:369.79px">2</i><i class="r38" style="left:383.12px">%</i></div>
<div class="w" style="top:252.00px"><i class="r39" style="left:469.59px">4</i><i class="r43" style="left:482.31px">0</i><i class="r37" style="left:495.48px">.</i><i class="r39" style="left:502.31px">4</i></div>
<div class="w" style="top:252.00px"><i class="r36" style="left:577.99px">2</i><i class="r32" style="left:590.71px">6</i><i class="r35" style="left:603.43px">8</i><i class="r35" style="left:623.43px">8</i><i class="r32" style="left:636.15px">6</i><i class="r39" style="left:648.87px">4</i><i class="r35" style="left:668.87px">8</i><i class="r32" style="left:681.59px">6</i></div>
<div class="w" style="top:252.00px"><i class="r31" style="left:793.87px">3</i><i class="r34" style="left:806.59px">7</i><i class="r37" style="left:819.76px">.</i><i class="r33" style="left:826.59px">5</i><i class="r43" style="left:839.31px">0</i></div>
<div class="w" style="top:252.00px"><i class="r42" style="left:862.00px">N</i><i class="r53" style="left:876.96px">e</i><i class="r64" style="left:889.66px">t</i><i class="r44" style="left:896.76px">h</i><i class="r53" style="left:909.42px">e</i><i class="r52" style="left:921.82px">r</i><i class="r65" style="left:930.09px">l</i><i class="r47" style="left:935.36px">a</i><i class="r46" style="left:947.38px">n</i><i class="r66" style="left:960.04px">d</i><i class="r67" style="left:972.50px">s</i></div>
<div class="w" style="top:286.00px"><i class="r35" style="left:56.31px">8</i></div>
<div class="w" style="top:286.00px"><i class="r61" style="left:79.00px">R</i><i class="r28" style="left:92.90px">U</i></div>
<div class="w" style="top:286.00px"><i class="r34" style="left:175.99px">7</i><i class="r43" style="left:188.71px">0</i><i class="r34" style="left:201.43px">7</i><i class="r43" style="left:221.43px">0</i><i class="r43" style="left:234.15px">0</i><i class="r36" style="left:246.87px">2</i><i class="r32" style="left:266.87px">6</i><i class="r35" style="left:279.59px">8</i><i class="r35" style="left:292.31px">8</i></div>
<div class="w" style="top:286.00px"><i class="r36" style="left:349.79px">2</i><i class="r37" style="left:362.96px">.</i><i class="r36" style="left:369.79px">2</i><i class="r38" style="left:383.12px">%</i></div>
<div class="w" style="top:286.00px"><i class="r39" style="left:482.31px">4</i><i class="r37" style="left:495.48px">.</i><i class="r30" style="left:502.31px">9</i></div>
<div class="w" style="top:286.00px"><i class="r36" style="left:577.99px">2</i><i class="r31" style="left:590.71px">3</i><i class="r33" style="left:603.43px">5</i><i class="r36" style="left:623.43px">2</i><i class="r36" style="left:636.15px">2</i><i class="r39" style="left:648.87px">4</i><i class="r30" style="left:668.87px">9</i><i class="r34" style="left:681.59px">7</i><i class="r31" style="left:694.31px">3</i></div>
<div class="w" style="top:286.00px"><i class="r31" style="left:793.87px">3</i><i class="r31" style="left:806.59px">3</i><i class="r37" style="left:819.76px">.</i><i class="r36" style="left:826.59px">2</i><i class="r34" style="left:839.31px">7</i></div>
<div class="w" style="top:286.00px"><i class="r61" style="left:862.00px">R</i><i class="r68" style="left:875.90px">u</i><i class="r67" style="left:888.56px">s</i><i class="r67" style="left:898.98px">s</i><i class="r45" style="left:909.61px">i</i><i class="r47" style="left:914.88px">a</i></div>
<div class="w" style="top:320.00px"><i class="r30" style="left:56.31px">9</i></div>
<div class="w" style="top:320.00px"><i class="r69" style="left:87.42px">T</i></div>
<div class="w" style="top:320.00px"><i class="r32" style="left:175.99px">6</i><i class="r30" style="left:188.71px">9</i><i class="r34" style="left:201.43px">7</i><i class="r39" style="left:221.43px">4</i><i class="r31" style="left:234.15px">3</i><i class="r35" style="left:246.87px">8</i><i class="r36" style="left:266.87px">2</i><i class="r33" style="left:279.59px">5</i></div>
<div class="w" style="top:320.00px"><i class="r36" style="left:349.79px">2</i><i class="r37" style="left:362.96px">.</i><i class="r36" style="left:369.79px">2</i><i class="r38" style="left:383.12px">%</i></div>
<div class="w" style="top:320.00px"><i class="r37" style="left:495.48px">.</i><i class="r30" style="left:502.31px">9</i></div>
<div class="w" style="top:320.00px"><i class="r39" style="left:577.99px">4</i><i class="r39" style="left:590.71px">4</i><i class="r39" style="left:623.43px">4</i><i class="r34" style="left:636.15px">7</i><i class="r31" style="left:648.87px">3</i><i class="r43" style="left:668.87px">0</i><i class="r34" style="left:681.59px">7</i><i class="r32" style="left:694.31px">6</i></div>
<div class="w" style="top:320.00px"><i class="r32" style="left:793.87px">6</i><i class="r31" style="left:806.59px">3</i><i class="r37" style="left:819.76px">.</i><i class="r31" style="left:826.59px">3</i><i class="r43" style="left:839.31px">0</i></div>
<div class="w" style="top:320.00px"><i class="r64" style="left:871.20px">t</i><i class="r47" style="left:878.30px">a</i><i class="r65" style="left:890.53px">l</i><i class="r57" style="left:896.03px">y</i></div>
<div class="w" style="top:354.00px"><i class="r43" style="left:56.31px">0</i></div>
<div class="w" style="top:354.00px"><i class="r70" style="left:79.00px">J</i><i class="r71" style="left:88.10px">P</i></div>
<div class="w" style="top:354.00px"><i class="r32" style="left:175.99px">6</i><i class="r32" style="left:188.71px">6</i><i class="r30" style="left:201.43px">9</i><i class="r32" style="left:221.43px">6</i><i class="r43" style="left:246.87px">0</i><i class="r36" style="left:266.87px">2</i><i class="r43" style="left:279.59px">0</i><i class="r32" style="left:292.31px">6</i></div>
<div class="w" style="top:354.00px"><i class="r36" style="left:349.79px">2</i><i class="r37" style="left:362.96px">.</i><i class="r38" style="left:383.12px">%</i></div>
<div class="w" style="top:354.00px"><i class="r33" style="left:482.31px">5</i><i class="r37" style="left:495.48px">.</i><i class="r33" style="left:502.31px">5</i></div>
<div class="w" style="top:354.00px"><i class="r33" style="left:577.99px">5</i><i class="r36" style="left:603.43px">2</i><i class="r31" style="left:623.43px">3</i><i class="r35" style="left:636.15px">8</i><i class="r39" style="left:648.87px">4</i><i class="r35" style="left:668.87px">8</i><i class="r33" style="left:681.59px">5</i><i class="r34" style="left:694.31px">7</i></div>
<div class="w" style="top:354.00px"><i class="r34" style="left:793.87px">7</i><i class="r32" style="left:806.59px">6</i><i class="r37" style="left:819.76px">.</i><i class="r33" style="left:826.59px">5</i><i class="r36" style="left:839.31px">2</i></div>
<div class="w" style="top:354.00px"><i class="r70" style="left:862.00px">J</i><i class="r47" style="left:871.10px">a</i><i class="r50" style="left:883.12px">p</i><i class="r47" style="left:895.58px">a</i><i class="r46" style="left:907.60px">n</i></div>
<div class="w" style="top:388.00px"></div>
<div class="w" style="top:388.00px"><i class="r40" style="left:79.00px">A</i><i class="r28" style="left:92.68px">U</i></div>
<div class="w" style="top:388.00px"><i class="r32" style="left:175.99px">6</i><i class="r36" style="left:188.71px">2</i><i class="r36" style="left:201.43px">2</i><i class="r39" style="left:221.43px">4</i><i class="r32" style="left:234.15px">6</i><i class="r32" style="left:246.87px">6</i><i class="r31" style="left:266.87px">3</i><i class="r35" style="left:279.59px">8</i><i class="r43" style="left:292.31px">0</i></div>
<div class="w" style="top:388.00px"><i class="r37" style="left:362.96px">.</i><i class="r30" style="left:369.79px">9</i><i class="r38" style="left:383.12px">%</i></div>
<div class="w" style="top:388.00px"><i class="r36" style="left:469.59px">2</i><i class="r31" style="left:482.31px">3</i><i class="r37" style="left:495.48px">.</i><i class="r43" style="left:502.31px">0</i></div>
<div class="w" style="top:388.00px"><i class="r31" style="left:577.99px">3</i><i class="r31" style="left:623.43px">3</i><i class="r31" style="left:636.15px">3</i><i class="r30" style="left:648.87px">9</i><i class="r35" style="left:668.87px">8</i><i class="r36" style="left:681.59px">2</i><i class="r32" style="left:694.31px">6</i></div>
<div class="w" style="top:388.00px"><i class="r33" style="left:793.87px">5</i><i class="r43" style="left:806.59px">0</i><i class="r37" style="left:819.76px">.</i><i class="r43" style="left:826.59px">0</i><i class="r36" style="left:839.31px">2</i></div>
<div class="w" style="top:388.00px"><i class="r40" style="left:862.00px">A</i><i class="r68" style="left:875.68px">u</i><i class="r67" style="left:888.34px">s</i><i class="r64" style="left:899.54px">t</i><i class="r52" style="left:907.12px">r</i><i class="r47" style="left:915.18px">a</i><i class="r65" style="left:927.41px">l</i><i class="r45" style="left:932.89px">i</i><i class="r47" style="left:938.16px">a</i></div>
<div class="w" style="top:422.00px"><i class="r36" style="left:56.31px">2</i></div>
<div class="w" style="top:422.00px"><i class="r58" style="left:79.00px">B</i><i class="r61" style="left:92.72px">R</i></div>
<div class="w" style="top:422.00px"><i class="r33" style="left:175.99px">5</i><i class="r33" style="left:188.71px">5</i><i class="r36" style="left:201.43px">2</i><i class="r33" style="left:221.43px">5</i><i class="r43" style="left:234.15px">0</i><i class="r39" style="left:246.87px">4</i><i class="r36" style="left:266.87px">2</i><i class="r30" style="left:279.59px">9</i><i class="r43" style="left:292.31px">0</i></div>
<div class="w" style="top:422.00px"><i class="r37" style="left:362.96px">.</i><i class="r34" style="left:369.79px">7</i><i class="r38" style="left:383.12px">%</i></div>
<div class="w" style="top:422.00px"><i class="r36" style="left:482.31px">2</i><i class="r37" style="left:495.48px">.</i><i class="r33" style="left:502.31px">5</i></div>
<div class="w" style="top:422.00px"><i class="r39" style="left:577.99px">4</i><i class="r39" style="left:590.71px">4</i><i class="r31" style="left:603.43px">3</i><i class="r43" style="left:623.43px">0</i><i class="r43" style="left:636.15px">0</i><i class="r36" style="left:648.87px">2</i><i class="r35" style="left:668.87px">8</i><i class="r32" style="left:681.59px">6</i></div>
<div class="w" style="top:422.00px"><i class="r35" style="left:793.87px">8</i><i class="r43" style="left:806.59px">0</i><i class="r37" style="left:819.76px">.</i><i class="r35" style="left:839.31px">8</i></div>
<div class="w" style="top:422.00px"><i class="r58" style="left:862.00px">B</i><i class="r52" style="left:876.20px">r</i><i class="r47" style="left:884.26px">a</i><i class="r72" style="left:896.28px">z</i><i class="r45" style="left:906.99px">i</i><i class="r65" style="left:912.47px">l</i></div>
<div class="w" style="top:456.00px"><i class="r31" style="left:56.31px">3</i></div>
<div class="w" style="top:456.00px"><i class="r29" style="left:79.00px">S</i><i class="r55" style="left:92.68px">E</i></div>
<div class="w" style="top:456.00px"><i class="r39" style="left:175.99px">4</i><i class="r33" style="left:188.71px">5</i><i class="r34" style="left:201.43px">7</i><i class="r35" style="left:221.43px">8</i><i class="r31" style="left:234.15px">3</i><i class="r39" style="left:246.87px">4</i><i class="r35" style="left:266.87px">8</i><i class="r33" style="left:279.59px">5</i><i class="r32" style="left:292.31px">6</i></div>
<div class="w" style="top:456.00px"><i class="r37" style="left:362.96px">.</i><i class="r39" style="left:369.79px">4</i><i class="r38" style="left:383.12px">%</i></div>
<div class="w" style="top:456.00px"><i class="r39" style="left:469.59px">4</i><i class="r36" style="left:482.31px">2</i><i class="r37" style="left:495.48px">.</i><i class="r33" style="left:502.31px">5</i></div>
<div class="w" style="top:456.00px"><i class="r35" style="left:590.71px">8</i><i class="r34" style="left:603.43px">7</i><i class="r30" style="left:623.43px">9</i><i class="r31" style="left:636.15px">3</i><i class="r30" style="left:648.87px">9</i><i class="r31" style="left:668.87px">3</i><i class="r39" style="left:681.59px">4</i><i class="r43" style="left:694.31px">0</i></div>
<div class="w" style="top:456.00px"><i class="r30" style="left:806.59px">9</i><i class="r37" style="left:819.76px">.</i><i class="r36" style="left:826.59px">2</i></div>
<div class="w" style="top:456.00px"><i class="r29" style="left:862.00px">S</i><i class="r73" style="left:875.68px">w</i><i class="r53" style="left:892.04px">e</i><i class="r66" style="left:903.96px">d</i><i class="r53" style="left:916.42px">e</i><i class="r46" style="left:928.34px">n</i></div>
<div class="w" style="top:490.00px"><i class="r39" style="left:56.31px">4</i></div>
<div class="w" style="top:490.00px"><i class="r42" style="left:87.42px">N</i></div>
<div class="w" style="top:490.00px"><i class="r39" style="left:175.99px">4</i><i class="r39" style="left:188.71px">4</i><i class="r33" style="left:201.43px">5</i><i class="r31" style="left:221.43px">3</i><i class="r35" style="left:234.15px">8</i><i class="r39" style="left:246.87px">4</i><i class="r31" style="left:266.87px">3</i><i class="r39" style="left:279.59px">4</i><i class="r32" style="left:292.31px">6</i></div>
<div class="w" style="top:490.00px"><i class="r37" style="left:362.96px">.</i><i class="r39" style="left:369.79px">4</i><i class="r38" style="left:383.12px">%</i></div>
<div class="w" style="top:490.00px"><i class="r43" style="left:482.31px">0</i><i class="r37" style="left:495.48px">.</i><i class="r31" style="left:502.31px">3</i></div>
<div class="w" style="top:490.00px"><i class="r31" style="left:577.99px">3</i><i class="r34" style="left:590.71px">7</i><i class="r39" style="left:603.43px">4</i><i class="r32" style="left:623.43px">6</i><i class="r32" style="left:648.87px">6</i><i class="r34" style="left:668.87px">7</i><i class="r43" style="left:681.59px">0</i><i class="r35" style="left:694.31px">8</i></div>
<div class="w" style="top:490.00px"><i class="r35" style="left:793.87px">8</i><i class="r39" style="left:806.59px">4</i><i class="r37" style="left:819.76px">.</i></div>
<div class="w" style="top:490.00px"><i class="r46" style="left:870.42px">n</i><i class="r66" style="left:883.08px">d</i><i class="r45" style="left:895.75px">i</i><i class="r47" style="left:901.02px">a</i></div>
<div class="w" style="top:524.00px"><i class="r33" style="left:56.31px">5</i></div>
<div class="w" style="top:524.00px"><i class="r71" style="left:79.00px">P</i><i class="r63" style="left:91.06px">L</i></div>
<div class="w" style="top:524.00px"><i class="r39" style="left:175.99px">4</i><i class="r43" style="left:188.71px">0</i><i class="r33" style="left:201.43px">5</i><i class="r43" style="left:221.43px">0</i><i class="r36" style="left:246.87px">2</i><i class="r34" style="left:266.87px">7</i><i class="r39" style="left:279.59px">4</i><i class="r30" style="left:292.31px">9</i></div>
<div class="w" style="top:524.00px"><i class="r37" style="left:362.96px">.</i><i class="r31" style="left:369.79px">3</i><i class="r38" style="left:383.12px">%</i></div>
<div class="w" style="top:524.00px"><i class="r43" style="left:482.31px">0</i><i class="r37" style="left:495.48px">.</i><i class="r31" style="left:502.31px">3</i></div>
<div class="w" style="top:524.00px"><i class="r36" style="left:577.99px">2</i><i class="r31" style="left:603.43px">3</i><i class="r43" style="left:636.15px">0</i><i class="r33" style="left:648.87px">5</i><i class="r43" style="left:668.87px">0</i><i class="r43" style="left:681.59px">0</i><i class="r43" style="left:694.31px">0</i></div>
<div class="w" style="top:524.00px"><i class="r33" style="left:793.87px">5</i><i class="r36" style="left:806.59px">2</i><i class="r37" style="left:819.76px">.</i><i class="r32" style="left:826.59px">6</i><i class="r36" style="left:839.31px">2</i></div>
<div class="w" style="top:524.00px"><i class="r71" style="left:862.00px">P</i><i class="r51" style="left:874.06px">o</i><i class="r65" style="left:886.41px">l</i><i class="r47" style="left:891.68px">a</i><i class="r46" style="left:903.70px">n</i><i class="r66" style="left:916.36px">d</i></div>
<div class="w" style="top:558.00px"><i class="r32" style="left:56.31px">6</i></div>
<div class="w" style="top:558.00px"><i class="r29" style="left:79.00px">S</i><i class="r41" style="left:92.68px">C</i></div>
<div class="w" style="top:558.00px"><i class="r31" style="left:175.99px">3</i><i class="r34" style="left:188.71px">7</i><i class="r39" style="left:221.43px">4</i><i class="r33" style="left:234.15px">5</i><i class="r35" style="left:246.87px">8</i><i class="r43" style="left:266.87px">0</i><i class="r33" style="left:279.59px">5</i><i class="r31" style="left:292.31px">3</i></div>
<div class="w" style="top:558.00px"><i class="r37" style="left:362.96px">.</i><i class="r36" style="left:369.79px">2</i><i class="r38" style="left:383.12px">%</i></div>
<div class="w" style="top:558.00px"><i class="r31" style="left:436.87px">3</i><i class="r39" style="left:456.87px">4</i><i class="r43" style="left:469.59px">0</i><i class="r31" style="left:482.31px">3</i><i class="r37" style="left:495.48px">.</i><i class="r33" style="left:502.31px">5</i></div>
<div class="w" style="top:558.00px"><i class="r30" style="left:590.71px">9</i><i class="r43" style="left:603.43px">0</i><i class="r35" style="left:623.43px">8</i><i class="r36" style="left:648.87px">2</i><i class="r32" style="left:668.87px">6</i><i class="r31" style="left:681.59px">3</i></div>
<div class="w" style="top:558.00px"><i class="r33" style="left:793.87px">5</i><i class="r37" style="left:819.76px">.</i><i class="r31" style="left:826.59px">3</i><i class="r34" style="left:839.31px">7</i></div>
<div class="w" style="top:558.00px"><i class="r29" style="left:862.00px">S</i><i class="r53" style="left:875.68px">e</i><i class="r57" style="left:887.83px">y</i><i class="r62" style="left:899.44px">c</i><i class="r44" style="left:909.86px">h</i><i class="r53" style="left:922.52px">e</i><i class="r65" style="left:934.65px">l</i><i class="r65" style="left:940.13px">l</i><i class="r53" style="left:945.40px">e</i><i class="r67" style="left:957.32px">s</i></div>
<div class="w" style="top:592.00px"><i class="r34" style="left:56.31px">7</i></div>
<div class="w" style="top:592.00px"><i class="r55" style="left:79.00px">E</i><i class="r29" style="left:91.64px">S</i></div>
<div class="w" style="top:592.00px"><i class="r31" style="left:175.99px">3</i><i class="r34" style="left:188.71px">7</i><i class="r43" style="left:201.43px">0</i><i class="r32" style="left:221.43px">6</i><i class="r34" style="left:234.15px">7</i><i class="r32" style="left:266.87px">6</i><i class="r32" style="left:279.59px">6</i><i class="r34" style="left:292.31px">7</i></div>
<div class="w" style="top:592.00px"><i class="r37" style="left:362.96px">.</i><i class="r36" style="left:369.79px">2</i><i class="r38" style="left:383.12px">%</i></div>
<div class="w" style="top:592.00px"><i class="r34" style="left:482.31px">7</i><i class="r37" style="left:495.48px">.</i><i class="r35" style="left:502.31px">8</i></div>
<div class="w" style="top:592.00px"><i class="r33" style="left:603.43px">5</i><i class="r39" style="left:623.43px">4</i><i class="r43" style="left:636.15px">0</i><i class="r30" style="left:648.87px">9</i><i class="r33" style="left:668.87px">5</i><i class="r30" style="left:681.59px">9</i><i class="r31" style="left:694.31px">3</i></div>
<div class="w" style="top:592.00px"><i class="r31" style="left:793.87px">3</i><i class="r37" style="left:819.76px">.</i><i class="r39" style="left:839.31px">4</i></div>
<div class="w" style="top:592.00px"><i class="r29" style="left:862.00px">S</i><i class="r50" style="left:875.68px">p</i><i class="r47" style="left:888.14px">a</i><i class="r45" style="left:900.37px">i</i><i class="r46" style="left:905.64px">n</i></div>
<div class="w" style="top:626.00px"><i class="r35" style="left:56.31px">8</i></div>
<div class="w" style="top:626.00px"><i class="r74" style="left:79.00px">Z</i><i class="r40" style="left:92.70px">A</i></div>
<div class="w" style="top:626.00px"><i class="r31" style="left:175.99px">3</i><i class="r33" style="left:188.71px">5</i><i class="r43" style="left:201.43px">0</i><i class="r30" style="left:221.43px">9</i><i class="r33" style="left:234.15px">5</i><i class="r43" style="left:246.87px">0</i><i class="r33" style="left:266.87px">5</i><i class="r34" style="left:279.59px">7</i><i class="r35" style="left:292.31px">8</i></div>
<div class="w" style="top:626.00px"><i class="r37" style="left:362.96px">.</i><i class="r38" style="left:383.12px">%</i></div>
<div class="w" style="top:626.00px"><i class="r33" style="left:482.31px">5</i><i class="r37" style="left:495.48px">.</i><i class="r34" style="left:502.31px">7</i></div>
<div class="w" style="top:626.00px"><i class="r31" style="left:577.99px">3</i><i class="r33" style="left:623.43px">5</i><i class="r33" style="left:636.15px">5</i><i class="r33" style="left:648.87px">5</i><i class="r33" style="left:668.87px">5</i><i class="r36" style="left:681.59px">2</i><i class="r32" style="left:694.31px">6</i></div>
<div class="w" style="top:626.00px"><i class="r35" style="left:793.87px">8</i><i class="r35" style="left:806.59px">8</i><i class="r37" style="left:819.76px">.</i><i class="r34" style="left:826.59px">7</i><i class="r34" style="left:839.31px">7</i></div>
<div class="w" style="top:626.00px"><i class="r29" style="left:862.00px">S</i><i class="r51" style="left:875.68px">o</i><i class="r68" style="left:887.82px">u</i><i class="r64" style="left:901.26px">t</i><i class="r44" style="left:908.36px">h</i><i class="r40" style="left:928.06px">A</i><i class="r75" style="left:942.10px">f</i><i class="r52" style="left:949.26px">r</i><i class="r45" style="left:957.53px">i</i><i class="r62" style="left:962.80px">c</i><i class="r47" style="left:973.22px">a</i></div>
<div class="w" style="top:660.00px"><i class="r30" style="left:56.31px">9</i></div>
<div class="w" style="top:660.00px"><i class="r40" style="left:79.00px">A</i><i class="r61" style="left:92.68px">R</i></div>
<div class="w" style="top:660.00px"><i class="r31" style="left:175.99px">3</i><i class="r39" style="left:188.71px">4</i><i class="r34" style="left:201.43px">7</i><i class="r36" style="left:221.43px">2</i><i class="r33" style="left:246.87px">5</i><i class="r30" style="left:266.87px">9</i><i class="r35" style="left:279.59px">8</i><i class="r32" style="left:292.31px">6</i></div>
<div class="w" style="top:660.00px"><i class="r37" style="left:362.96px">.</i><i class="r38" style="left:383.12px">%</i></div>
<div class="w" style="top:660.00px"><i class="r34" style="left:482.31px">7</i><i class="r37" style="left:495.48px">.</i><i class="r33" style="left:502.31px">5</i></div>
<div class="w" style="top:660.00px"><i class="r36" style="left:577.99px">2</i><i class="r35" style="left:590.71px">8</i><i class="r35" style="left:603.43px">8</i><i class="r31" style="left:623.43px">3</i><i class="r34" style="left:636.15px">7</i><i class="r36" style="left:648.87px">2</i><i class="r30" style="left:668.87px">9</i><i class="r36" style="left:681.59px">2</i><i class="r31" style="left:694.31px">3</i></div>
<div class="w" style="top:660.00px"><i class="r35" style="left:793.87px">8</i><i class="r31" style="left:806.59px">3</i><i class="r37" style="left:819.76px">.</i><i class="r43" style="left:826.59px">0</i><i class="r33" style="left:839.31px">5</i></div>
<div class="w" style="top:660.00px"><i class="r40" style="left:862.00px">A</i><i class="r52" style="left:876.16px">r</i><i class="r49" style="left:884.22px">g</i><i class="r53" style="left:896.68px">e</i><i class="r46" style="left:908.60px">n</i><i class="r64" style="left:922.04px">t</i><i class="r45" style="left:929.35px">i</i><i class="r46" style="left:934.62px">n</i><i class="r47" style="left:947.28px">a</i></div>
<div class="w" style="top:694.00px"><i class="r36" style="left:43.59px">2</i><i class="r43" style="left:56.31px">0</i></div>
<div class="w" style="top:694.00px"><i class="r59" style="left:79.00px">K</i><i class="r61" style="left:92.86px">R</i></div>
<div class="w" style="top:694.00px"><i class="r31" style="left:175.99px">3</i><i class="r39" style="left:188.71px">4</i><i class="r32" style="left:201.43px">6</i><i class="r39" style="left:221.43px">4</i><i class="r30" style="left:234.15px">9</i><i class="r31" style="left:246.87px">3</i><i class="r30" style="left:279.59px">9</i><i class="r35" style="left:292.31px">8</i></div>
<div class="w" style="top:694.00px"><i class="r37" style="left:362.96px">.</i><i class="r38" style="left:383.12px">%</i></div>
<div class="w" style="top:694.00px"><i class="r32" style="left:482.31px">6</i><i class="r37" style="left:495.48px">.</i><i class="r34" style="left:502.31px">7</i></div>
<div class="w" style="top:694.00px"><i class="r36" style="left:603.43px">2</i><i class="r32" style="left:623.43px">6</i><i class="r43" style="left:636.15px">0</i><i class="r35" style="left:648.87px">8</i><i class="r31" style="left:668.87px">3</i></div>
<div class="w" style="top:694.00px"><i class="r43" style="left:806.59px">0</i><i class="r37" style="left:819.76px">.</i><i class="r34" style="left:826.59px">7</i><i class="r33" style="left:839.31px">5</i></div>
<div class="w" style="top:694.00px"><i class="r59" style="left:862.00px">K</i><i class="r51" style="left:875.86px">o</i><i class="r52" style="left:888.48px">r</i><i class="r53" style="left:896.54px">e</i><i class="r47" style="left:908.46px">a</i></div>
<div class="w" style="top:728.00px"><i class="r36" style="left:43.59px">2</i></div>
<div class="w" style="top:728.00px"><i class="r40" style="left:79.00px">A</i><i class="r55" style="left:92.68px">E</i></div>
<div class="w" style="top:728.00px"><i class="r36" style="left:175.99px">2</i><i class="r35" style="left:188.71px">8</i><i class="r32" style="left:201.43px">6</i><i class="r35" style="left:221.43px">8</i><i class="r33" style="left:234.15px">5</i><i class="r43" style="left:266.87px">0</i><i class="r35" style="left:279.59px">8</i><i class="r33" style="left:292.31px">5</i></div>
<div class="w" style="top:728.00px"><i class="r43" style="left:349.79px">0</i><i class="r37" style="left:362.96px">.</i><i class="r30" style="left:369.79px">9</i><i class="r38" style="left:383.12px">%</i></div>
<div class="w" style="top:728.00px"><i class="r36" style="left:469.59px">2</i><i class="r30" style="left:482.31px">9</i><i class="r37" style="left:495.48px">.</i><i class="r32" style="left:502.31px">6</i></div>
<div class="w" style="top:728.00px"><i class="r36" style="left:577.99px">2</i><i class="r31" style="left:590.71px">3</i><i class="r39" style="left:603.43px">4</i><i class="r39" style="left:623.43px">4</i><i class="r36" style="left:636.15px">2</i><i class="r31" style="left:648.87px">3</i><i class="r36" style="left:668.87px">2</i><i class="r43" style="left:681.59px">0</i><i class="r34" style="left:694.31px">7</i></div>
<div class="w" style="top:728.00px"><i class="r35" style="left:793.87px">8</i><i class="r37" style="left:819.76px">.</i><i class="r34" style="left:826.59px">7</i><i class="r36" style="left:839.31px">2</i></div>
<div class="w" style="top:728.00px"><i class="r28" style="left:862.00px">U</i><i class="r46" style="left:876.64px">n</i><i class="r45" style="left:889.51px">i</i><i class="r64" style="left:895.56px">t</i><i class="r53" style="left:902.66px">e</i><i class="r66" style="left:914.58px">d</i><i class="r40" style="left:934.08px">A</i><i class="r52" style="left:948.24px">r</i><i class="r47" style="left:956.30px">a</i><i class="r76" style="left:968.32px">b</i><i class="r55" style="left:987.82px">E</i><i class="r56" style="left:1000.71px">m</i><i class="r45" style="left:1020.13px">i</i><i class="r52" style="left:1025.88px">r</i><i class="r47" style="left:1033.94px">a</i><i class="r64" style="left:1046.74px">t</i><i class="r53" style="left:1053.84px">e</i><i class="r67" style="left:1065.76px">s</i></div>
<div class="w" style="top:762.00px"><i class="r36" style="left:43.59px">2</i><i class="r36" style="left:56.31px">2</i></div>
<div class="w" style="top:762.00px"><i class="r69" style="left:79.00px">T</i><i class="r61" style="left:91.32px">R</i></div>
<div class="w" style="top:762.00px"><i class="r36" style="left:175.99px">2</i><i class="r34" style="left:188.71px">7</i><i class="r35" style="left:201.43px">8</i><i class="r31" style="left:221.43px">3</i><i class="r30" style="left:234.15px">9</i><i class="r32" style="left:246.87px">6</i><i class="r30" style="left:266.87px">9</i><i class="r32" style="left:279.59px">6</i></div>
<div class="w" style="top:762.00px"><i class="r43" style="left:349.79px">0</i><i class="r37" style="left:362.96px">.</i><i class="r30" style="left:369.79px">9</i><i class="r38" style="left:383.12px">%</i></div>
<div class="w" style="top:762.00px"><i class="r31" style="left:482.31px">3</i><i class="r37" style="left:495.48px">.</i><i class="r36" style="left:502.31px">2</i></div>
<div class="w" style="top:762.00px"><i class="r32" style="left:590.71px">6</i><i class="r35" style="left:603.43px">8</i><i class="r36" style="left:623.43px">2</i><i class="r43" style="left:636.15px">0</i><i class="r39" style="left:648.87px">4</i><i class="r39" style="left:668.87px">4</i><i class="r43" style="left:681.59px">0</i><i class="r30" style="left:694.31px">9</i></div>
<div class="w" style="top:762.00px"><i class="r36" style="left:793.87px">2</i><i class="r39" style="left:806.59px">4</i><i class="r37" style="left:819.76px">.</i><i class="r33" style="left:826.59px">5</i><i class="r43" style="left:839.31px">0</i></div>
<div class="w" style="top:762.00px"><i class="r69" style="left:862.00px">T</i><i class="r68" style="left:874.32px">u</i><i class="r52" style="left:887.46px">r</i><i class="r77" style="left:895.75px">k</i><i class="r53" style="left:907.36px">e</i><i class="r57" style="left:919.51px">y</i></div>
<div class="w" style="top:796.00px"><i class="r36" style="left:43.59px">2</i><i class="r31" style="left:56.31px">3</i></div>
<div class="w" style="top:796.00px"><i class="r55" style="left:79.00px">E</i><i class="r48" style="left:91.64px">G</i></div>
<div class="w" style="top:796.00px"><i class="r36" style="left:175.99px">2</i><i class="r34" style="left:188.71px">7</i><i class="r31" style="left:221.43px">3</i><i class="r35" style="left:234.15px">8</i><i class="r39" style="left:246.87px">4</i><i class="r33" style="left:266.87px">5</i><i class="r35" style="left:279.59px">8</i><i class="r36" style="left:292.31px">2</i></div>
<div class="w" style="top:796.00px"><i class="r43" style="left:349.79px">0</i><i class="r37" style="left:362.96px">.</i><i class="r35" style="left:369.79px">8</i><i class="r38" style="left:383.12px">%</i></div>
<div class="w" style="top:796.00px"><i class="r36" style="left:482.31px">2</i><i class="r37" style="left:495.48px">.</i><i class="r31" style="left:502.31px">3</i></div>
<div class="w" style="top:796.00px"><i class="r36" style="left:577.99px">2</i><i class="r34" style="left:590.71px">7</i><i class="r43" style="left:603.43px">0</i><i class="r30" style="left:623.43px">9</i><i class="r36" style="left:636.15px">2</i><i class="r33" style="left:648.87px">5</i><i class="r35" style="left:668.87px">8</i><i class="r36" style="left:681.59px">2</i><i class="r32" style="left:694.31px">6</i></div>
<div class="w" style="top:796.00px"><i class="r30" style="left:793.87px">9</i><i class="r30" style="left:806.59px">9</i><i class="r37" style="left:819.76px">.</i><i class="r35" style="left:826.59px">8</i><i class="r31" style="left:839.31px">3</i></div>
<div class="w" style="top:796.00px"><i class="r55" style="left:862.00px">E</i><i class="r49" style="left:874.64px">g</i><i class="r57" style="left:887.33px">y</i><i class="r50" style="left:898.94px">p</i><i class="r64" style="left:912.18px">t</i></div>
<div class="w" style="top:830.00px"><i class="r36" style="left:43.59px">2</i><i class="r39" style="left:56.31px">4</i></div>
<div class="w" style="top:830.00px"><i class="r41" style="left:79.00px">C</i><i class="r78" style="left:92.96px">H</i></div>
<div class="w" style="top:830.00px"><i class="r36" style="left:175.99px">2</i><i class="r34" style="left:188.71px">7</i><i class="r43" style="left:201.43px">0</i><i class="r36" style="left:221.43px">2</i><i class="r43" style="left:234.15px">0</i><i class="r33" style="left:246.87px">5</i><i class="r36" style="left:279.59px">2</i><i class="r39" style="left:292.31px">4</i></div>
<div class="w" style="top:830.00px"><i class="r43" style="left:349.79px">0</i><i class="r37" style="left:362.96px">.</i><i class="r35" style="left:369.79px">8</i><i class="r38" style="left:383.12px">%</i></div>
<div class="w" style="top:830.00px"><i class="r31" style="left:469.59px">3</i><i class="r43" style="left:482.31px">0</i><i class="r37" style="left:495.48px">.</i><i class="r31" style="left:502.31px">3</i></div>
<div class="w" style="top:830.00px"><i class="r36" style="left:590.71px">2</i><i class="r32" style="left:603.43px">6</i><i class="r33" style="left:623.43px">5</i><i class="r35" style="left:636.15px">8</i><i class="r35" style="left:648.87px">8</i><i class="r31" style="left:668.87px">3</i><i class="r36" style="left:681.59px">2</i><i class="r33" style="left:694.31px">5</i></div>
<div class="w" style="top:830.00px"><i class="r39" style="left:793.87px">4</i><i class="r32" style="left:806.59px">6</i><i class="r37" style="left:819.76px">.</i><i class="r35" style="left:826.59px">8</i><i class="r33" style="left:839.31px">5</i></div>
<div class="w" style="top:830.00px"><i class="r29" style="left:862.00px">S</i><i class="r73" style="left:875.68px">w</i><i class="r45" style="left:892.25px">i</i><i class="r64" style="left:898.30px">t</i><i class="r72" style="left:905.40px">z</i><i class="r53" style="left:915.90px">e</i><i class="r52" style="left:928.30px">r</i><i class="r65" style="left:936.57px">l</i><i class="r47" style="left:941.84px">a</i><i class="r46" style="left:953.86px">n</i><i class="r66" style="left:966.52px">d</i></div>
<div class="w" style="top:864.00px"><i class="r36" style="left:43.59px">2</i><i class="r33" style="left:56.31px">5</i></div>
<div class="w" style="top:864.00px"><i class="r61" style="left:87.42px">R</i></div>
<div class="w" style="top:864.00px"><i class="r36" style="left:175.99px">2</i><i class="r32" style="left:188.71px">6</i><i class="r34" style="left:201.43px">7</i><i class="r33" style="left:221.43px">5</i><i class="r34" style="left:246.87px">7</i><i class="r30" style="left:266.87px">9</i><i class="r32" style="left:279.59px">6</i><i class="r31" style="left:292.31px">3</i></div>
<div class="w" style="top:864.00px"><i class="r43" style="left:349.79px">0</i><i class="r37" style="left:362.96px">.</i><i class="r35" style="left:369.79px">8</i><i class="r38" style="left:383.12px">%</i></div>
<div class="w" style="top:864.00px"><i class="r36" style="left:482.31px">2</i><i class="r37" style="left:495.48px">.</i><i class="r30" style="left:502.31px">9</i></div>
<div class="w" style="top:864.00px"><i class="r33" style="left:590.71px">5</i><i class="r36" style="left:603.43px">2</i><i class="r39" style="left:623.43px">4</i><i class="r31" style="left:636.15px">3</i><i class="r32" style="left:648.87px">6</i><i class="r33" style="left:668.87px">5</i><i class="r34" style="left:681.59px">7</i></div>
<div class="w" style="top:864.00px"><i class="r30" style="left:806.59px">9</i><i class="r37" style="left:819.76px">.</i><i class="r32" style="left:826.59px">6</i><i class="r43" style="left:839.31px">0</i></div>
<div class="w" style="top:864.00px"><i class="r52" style="left:870.90px">r</i><i class="r47" style="left:878.96px">a</i><i class="r46" style="left:890.98px">n</i></div>
</div>
</body></html>
